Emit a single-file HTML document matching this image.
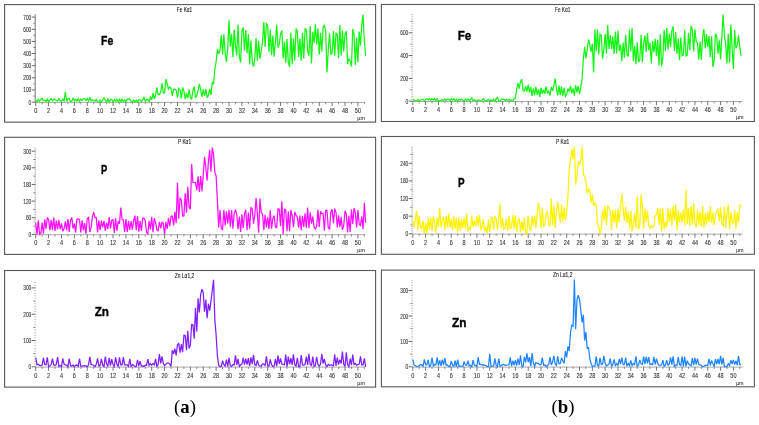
<!DOCTYPE html><html><head><meta charset="utf-8"><style>html,body{margin:0;padding:0;background:#fff;}svg{display:block;filter:blur(0.3px);}</style></head><body>
<svg width="759" height="425" viewBox="0 0 759 425" font-family='"Liberation Sans", sans-serif'>
<rect width="759" height="425" fill="#fff"/>
<g><rect x="4.6" y="4.6" width="371.00" height="117.50" fill="none" stroke="#585858" stroke-width="1.1"/><text x="176.80" y="11.7" font-size="6.4" fill="#222" stroke="#222" stroke-width="0.12" textLength="15.4" lengthAdjust="spacingAndGlyphs">Fe Kα1</text><line x1="35.3" y1="14.33" x2="35.3" y2="102.60" stroke="#a0a0a0" stroke-width="0.8"/><line x1="31.70" y1="102.10" x2="35.70" y2="102.10" stroke="#555" stroke-width="0.9"/><text x="28.60" y="104.60" font-size="6.5" fill="#3a3a3a" stroke="#3a3a3a" stroke-width="0.12" textLength="2.70" lengthAdjust="spacingAndGlyphs">0</text><line x1="34.60" y1="100.89" x2="35.60" y2="100.89" stroke="#777" stroke-width="0.8"/><line x1="34.60" y1="99.67" x2="35.60" y2="99.67" stroke="#777" stroke-width="0.8"/><line x1="34.60" y1="98.46" x2="35.60" y2="98.46" stroke="#777" stroke-width="0.8"/><line x1="34.60" y1="97.24" x2="35.60" y2="97.24" stroke="#777" stroke-width="0.8"/><line x1="33.30" y1="96.03" x2="35.70" y2="96.03" stroke="#666" stroke-width="0.8"/><line x1="34.60" y1="94.82" x2="35.60" y2="94.82" stroke="#777" stroke-width="0.8"/><line x1="34.60" y1="93.60" x2="35.60" y2="93.60" stroke="#777" stroke-width="0.8"/><line x1="34.60" y1="92.39" x2="35.60" y2="92.39" stroke="#777" stroke-width="0.8"/><line x1="34.60" y1="91.17" x2="35.60" y2="91.17" stroke="#777" stroke-width="0.8"/><line x1="31.70" y1="89.96" x2="35.70" y2="89.96" stroke="#555" stroke-width="0.9"/><text x="23.20" y="92.46" font-size="6.5" fill="#3a3a3a" stroke="#3a3a3a" stroke-width="0.12" textLength="8.10" lengthAdjust="spacingAndGlyphs">100</text><line x1="34.60" y1="88.75" x2="35.60" y2="88.75" stroke="#777" stroke-width="0.8"/><line x1="34.60" y1="87.53" x2="35.60" y2="87.53" stroke="#777" stroke-width="0.8"/><line x1="34.60" y1="86.32" x2="35.60" y2="86.32" stroke="#777" stroke-width="0.8"/><line x1="34.60" y1="85.10" x2="35.60" y2="85.10" stroke="#777" stroke-width="0.8"/><line x1="33.30" y1="83.89" x2="35.70" y2="83.89" stroke="#666" stroke-width="0.8"/><line x1="34.60" y1="82.68" x2="35.60" y2="82.68" stroke="#777" stroke-width="0.8"/><line x1="34.60" y1="81.46" x2="35.60" y2="81.46" stroke="#777" stroke-width="0.8"/><line x1="34.60" y1="80.25" x2="35.60" y2="80.25" stroke="#777" stroke-width="0.8"/><line x1="34.60" y1="79.03" x2="35.60" y2="79.03" stroke="#777" stroke-width="0.8"/><line x1="31.70" y1="77.82" x2="35.70" y2="77.82" stroke="#555" stroke-width="0.9"/><text x="23.20" y="80.32" font-size="6.5" fill="#3a3a3a" stroke="#3a3a3a" stroke-width="0.12" textLength="8.10" lengthAdjust="spacingAndGlyphs">200</text><line x1="34.60" y1="76.61" x2="35.60" y2="76.61" stroke="#777" stroke-width="0.8"/><line x1="34.60" y1="75.39" x2="35.60" y2="75.39" stroke="#777" stroke-width="0.8"/><line x1="34.60" y1="74.18" x2="35.60" y2="74.18" stroke="#777" stroke-width="0.8"/><line x1="34.60" y1="72.96" x2="35.60" y2="72.96" stroke="#777" stroke-width="0.8"/><line x1="33.30" y1="71.75" x2="35.70" y2="71.75" stroke="#666" stroke-width="0.8"/><line x1="34.60" y1="70.54" x2="35.60" y2="70.54" stroke="#777" stroke-width="0.8"/><line x1="34.60" y1="69.32" x2="35.60" y2="69.32" stroke="#777" stroke-width="0.8"/><line x1="34.60" y1="68.11" x2="35.60" y2="68.11" stroke="#777" stroke-width="0.8"/><line x1="34.60" y1="66.89" x2="35.60" y2="66.89" stroke="#777" stroke-width="0.8"/><line x1="31.70" y1="65.68" x2="35.70" y2="65.68" stroke="#555" stroke-width="0.9"/><text x="23.20" y="68.18" font-size="6.5" fill="#3a3a3a" stroke="#3a3a3a" stroke-width="0.12" textLength="8.10" lengthAdjust="spacingAndGlyphs">300</text><line x1="34.60" y1="64.47" x2="35.60" y2="64.47" stroke="#777" stroke-width="0.8"/><line x1="34.60" y1="63.25" x2="35.60" y2="63.25" stroke="#777" stroke-width="0.8"/><line x1="34.60" y1="62.04" x2="35.60" y2="62.04" stroke="#777" stroke-width="0.8"/><line x1="34.60" y1="60.82" x2="35.60" y2="60.82" stroke="#777" stroke-width="0.8"/><line x1="33.30" y1="59.61" x2="35.70" y2="59.61" stroke="#666" stroke-width="0.8"/><line x1="34.60" y1="58.40" x2="35.60" y2="58.40" stroke="#777" stroke-width="0.8"/><line x1="34.60" y1="57.18" x2="35.60" y2="57.18" stroke="#777" stroke-width="0.8"/><line x1="34.60" y1="55.97" x2="35.60" y2="55.97" stroke="#777" stroke-width="0.8"/><line x1="34.60" y1="54.75" x2="35.60" y2="54.75" stroke="#777" stroke-width="0.8"/><line x1="31.70" y1="53.54" x2="35.70" y2="53.54" stroke="#555" stroke-width="0.9"/><text x="23.20" y="56.04" font-size="6.5" fill="#3a3a3a" stroke="#3a3a3a" stroke-width="0.12" textLength="8.10" lengthAdjust="spacingAndGlyphs">400</text><line x1="34.60" y1="52.33" x2="35.60" y2="52.33" stroke="#777" stroke-width="0.8"/><line x1="34.60" y1="51.11" x2="35.60" y2="51.11" stroke="#777" stroke-width="0.8"/><line x1="34.60" y1="49.90" x2="35.60" y2="49.90" stroke="#777" stroke-width="0.8"/><line x1="34.60" y1="48.68" x2="35.60" y2="48.68" stroke="#777" stroke-width="0.8"/><line x1="33.30" y1="47.47" x2="35.70" y2="47.47" stroke="#666" stroke-width="0.8"/><line x1="34.60" y1="46.26" x2="35.60" y2="46.26" stroke="#777" stroke-width="0.8"/><line x1="34.60" y1="45.04" x2="35.60" y2="45.04" stroke="#777" stroke-width="0.8"/><line x1="34.60" y1="43.83" x2="35.60" y2="43.83" stroke="#777" stroke-width="0.8"/><line x1="34.60" y1="42.61" x2="35.60" y2="42.61" stroke="#777" stroke-width="0.8"/><line x1="31.70" y1="41.40" x2="35.70" y2="41.40" stroke="#555" stroke-width="0.9"/><text x="23.20" y="43.90" font-size="6.5" fill="#3a3a3a" stroke="#3a3a3a" stroke-width="0.12" textLength="8.10" lengthAdjust="spacingAndGlyphs">500</text><line x1="34.60" y1="40.19" x2="35.60" y2="40.19" stroke="#777" stroke-width="0.8"/><line x1="34.60" y1="38.97" x2="35.60" y2="38.97" stroke="#777" stroke-width="0.8"/><line x1="34.60" y1="37.76" x2="35.60" y2="37.76" stroke="#777" stroke-width="0.8"/><line x1="34.60" y1="36.54" x2="35.60" y2="36.54" stroke="#777" stroke-width="0.8"/><line x1="33.30" y1="35.33" x2="35.70" y2="35.33" stroke="#666" stroke-width="0.8"/><line x1="34.60" y1="34.12" x2="35.60" y2="34.12" stroke="#777" stroke-width="0.8"/><line x1="34.60" y1="32.90" x2="35.60" y2="32.90" stroke="#777" stroke-width="0.8"/><line x1="34.60" y1="31.69" x2="35.60" y2="31.69" stroke="#777" stroke-width="0.8"/><line x1="34.60" y1="30.47" x2="35.60" y2="30.47" stroke="#777" stroke-width="0.8"/><line x1="31.70" y1="29.26" x2="35.70" y2="29.26" stroke="#555" stroke-width="0.9"/><text x="23.20" y="31.76" font-size="6.5" fill="#3a3a3a" stroke="#3a3a3a" stroke-width="0.12" textLength="8.10" lengthAdjust="spacingAndGlyphs">600</text><line x1="34.60" y1="28.05" x2="35.60" y2="28.05" stroke="#777" stroke-width="0.8"/><line x1="34.60" y1="26.83" x2="35.60" y2="26.83" stroke="#777" stroke-width="0.8"/><line x1="34.60" y1="25.62" x2="35.60" y2="25.62" stroke="#777" stroke-width="0.8"/><line x1="34.60" y1="24.40" x2="35.60" y2="24.40" stroke="#777" stroke-width="0.8"/><line x1="33.30" y1="23.19" x2="35.70" y2="23.19" stroke="#666" stroke-width="0.8"/><line x1="34.60" y1="21.98" x2="35.60" y2="21.98" stroke="#777" stroke-width="0.8"/><line x1="34.60" y1="20.76" x2="35.60" y2="20.76" stroke="#777" stroke-width="0.8"/><line x1="34.60" y1="19.55" x2="35.60" y2="19.55" stroke="#777" stroke-width="0.8"/><line x1="34.60" y1="18.33" x2="35.60" y2="18.33" stroke="#777" stroke-width="0.8"/><line x1="31.70" y1="17.12" x2="35.70" y2="17.12" stroke="#555" stroke-width="0.9"/><text x="23.20" y="19.62" font-size="6.5" fill="#3a3a3a" stroke="#3a3a3a" stroke-width="0.12" textLength="8.10" lengthAdjust="spacingAndGlyphs">700</text><line x1="34.60" y1="15.91" x2="35.60" y2="15.91" stroke="#777" stroke-width="0.8"/><line x1="34.60" y1="14.69" x2="35.60" y2="14.69" stroke="#777" stroke-width="0.8"/><line x1="35.20" y1="102.40" x2="364.99" y2="102.40" stroke="#a0a0a0" stroke-width="0.9"/><line x1="35.70" y1="102.10" x2="35.70" y2="106.10" stroke="#666" stroke-width="0.9"/><text x="34.18" y="113.00" font-size="6.6" fill="#3a3a3a" stroke="#3a3a3a" stroke-width="0.12" textLength="3.05" lengthAdjust="spacingAndGlyphs">0</text><line x1="42.14" y1="102.10" x2="42.14" y2="104.30" stroke="#777" stroke-width="0.8"/><line x1="48.59" y1="102.10" x2="48.59" y2="106.10" stroke="#666" stroke-width="0.9"/><text x="47.06" y="113.00" font-size="6.6" fill="#3a3a3a" stroke="#3a3a3a" stroke-width="0.12" textLength="3.05" lengthAdjust="spacingAndGlyphs">2</text><line x1="55.03" y1="102.10" x2="55.03" y2="104.30" stroke="#777" stroke-width="0.8"/><line x1="61.48" y1="102.10" x2="61.48" y2="106.10" stroke="#666" stroke-width="0.9"/><text x="59.95" y="113.00" font-size="6.6" fill="#3a3a3a" stroke="#3a3a3a" stroke-width="0.12" textLength="3.05" lengthAdjust="spacingAndGlyphs">4</text><line x1="67.92" y1="102.10" x2="67.92" y2="104.30" stroke="#777" stroke-width="0.8"/><line x1="74.36" y1="102.10" x2="74.36" y2="106.10" stroke="#666" stroke-width="0.9"/><text x="72.84" y="113.00" font-size="6.6" fill="#3a3a3a" stroke="#3a3a3a" stroke-width="0.12" textLength="3.05" lengthAdjust="spacingAndGlyphs">6</text><line x1="80.81" y1="102.10" x2="80.81" y2="104.30" stroke="#777" stroke-width="0.8"/><line x1="87.25" y1="102.10" x2="87.25" y2="106.10" stroke="#666" stroke-width="0.9"/><text x="85.73" y="113.00" font-size="6.6" fill="#3a3a3a" stroke="#3a3a3a" stroke-width="0.12" textLength="3.05" lengthAdjust="spacingAndGlyphs">8</text><line x1="93.70" y1="102.10" x2="93.70" y2="104.30" stroke="#777" stroke-width="0.8"/><line x1="100.14" y1="102.10" x2="100.14" y2="106.10" stroke="#666" stroke-width="0.9"/><text x="97.09" y="113.00" font-size="6.6" fill="#3a3a3a" stroke="#3a3a3a" stroke-width="0.12" textLength="6.10" lengthAdjust="spacingAndGlyphs">10</text><line x1="106.58" y1="102.10" x2="106.58" y2="104.30" stroke="#777" stroke-width="0.8"/><line x1="113.03" y1="102.10" x2="113.03" y2="106.10" stroke="#666" stroke-width="0.9"/><text x="109.98" y="113.00" font-size="6.6" fill="#3a3a3a" stroke="#3a3a3a" stroke-width="0.12" textLength="6.10" lengthAdjust="spacingAndGlyphs">12</text><line x1="119.47" y1="102.10" x2="119.47" y2="104.30" stroke="#777" stroke-width="0.8"/><line x1="125.92" y1="102.10" x2="125.92" y2="106.10" stroke="#666" stroke-width="0.9"/><text x="122.87" y="113.00" font-size="6.6" fill="#3a3a3a" stroke="#3a3a3a" stroke-width="0.12" textLength="6.10" lengthAdjust="spacingAndGlyphs">14</text><line x1="132.36" y1="102.10" x2="132.36" y2="104.30" stroke="#777" stroke-width="0.8"/><line x1="138.80" y1="102.10" x2="138.80" y2="106.10" stroke="#666" stroke-width="0.9"/><text x="135.75" y="113.00" font-size="6.6" fill="#3a3a3a" stroke="#3a3a3a" stroke-width="0.12" textLength="6.10" lengthAdjust="spacingAndGlyphs">16</text><line x1="145.25" y1="102.10" x2="145.25" y2="104.30" stroke="#777" stroke-width="0.8"/><line x1="151.69" y1="102.10" x2="151.69" y2="106.10" stroke="#666" stroke-width="0.9"/><text x="148.64" y="113.00" font-size="6.6" fill="#3a3a3a" stroke="#3a3a3a" stroke-width="0.12" textLength="6.10" lengthAdjust="spacingAndGlyphs">18</text><line x1="158.14" y1="102.10" x2="158.14" y2="104.30" stroke="#777" stroke-width="0.8"/><line x1="164.58" y1="102.10" x2="164.58" y2="106.10" stroke="#666" stroke-width="0.9"/><text x="161.53" y="113.00" font-size="6.6" fill="#3a3a3a" stroke="#3a3a3a" stroke-width="0.12" textLength="6.10" lengthAdjust="spacingAndGlyphs">20</text><line x1="171.02" y1="102.10" x2="171.02" y2="104.30" stroke="#777" stroke-width="0.8"/><line x1="177.47" y1="102.10" x2="177.47" y2="106.10" stroke="#666" stroke-width="0.9"/><text x="174.42" y="113.00" font-size="6.6" fill="#3a3a3a" stroke="#3a3a3a" stroke-width="0.12" textLength="6.10" lengthAdjust="spacingAndGlyphs">22</text><line x1="183.91" y1="102.10" x2="183.91" y2="104.30" stroke="#777" stroke-width="0.8"/><line x1="190.36" y1="102.10" x2="190.36" y2="106.10" stroke="#666" stroke-width="0.9"/><text x="187.31" y="113.00" font-size="6.6" fill="#3a3a3a" stroke="#3a3a3a" stroke-width="0.12" textLength="6.10" lengthAdjust="spacingAndGlyphs">24</text><line x1="196.80" y1="102.10" x2="196.80" y2="104.30" stroke="#777" stroke-width="0.8"/><line x1="203.24" y1="102.10" x2="203.24" y2="106.10" stroke="#666" stroke-width="0.9"/><text x="200.19" y="113.00" font-size="6.6" fill="#3a3a3a" stroke="#3a3a3a" stroke-width="0.12" textLength="6.10" lengthAdjust="spacingAndGlyphs">26</text><line x1="209.69" y1="102.10" x2="209.69" y2="104.30" stroke="#777" stroke-width="0.8"/><line x1="216.13" y1="102.10" x2="216.13" y2="106.10" stroke="#666" stroke-width="0.9"/><text x="213.08" y="113.00" font-size="6.6" fill="#3a3a3a" stroke="#3a3a3a" stroke-width="0.12" textLength="6.10" lengthAdjust="spacingAndGlyphs">28</text><line x1="222.58" y1="102.10" x2="222.58" y2="104.30" stroke="#777" stroke-width="0.8"/><line x1="229.02" y1="102.10" x2="229.02" y2="106.10" stroke="#666" stroke-width="0.9"/><text x="225.97" y="113.00" font-size="6.6" fill="#3a3a3a" stroke="#3a3a3a" stroke-width="0.12" textLength="6.10" lengthAdjust="spacingAndGlyphs">30</text><line x1="235.46" y1="102.10" x2="235.46" y2="104.30" stroke="#777" stroke-width="0.8"/><line x1="241.91" y1="102.10" x2="241.91" y2="106.10" stroke="#666" stroke-width="0.9"/><text x="238.86" y="113.00" font-size="6.6" fill="#3a3a3a" stroke="#3a3a3a" stroke-width="0.12" textLength="6.10" lengthAdjust="spacingAndGlyphs">32</text><line x1="248.35" y1="102.10" x2="248.35" y2="104.30" stroke="#777" stroke-width="0.8"/><line x1="254.80" y1="102.10" x2="254.80" y2="106.10" stroke="#666" stroke-width="0.9"/><text x="251.75" y="113.00" font-size="6.6" fill="#3a3a3a" stroke="#3a3a3a" stroke-width="0.12" textLength="6.10" lengthAdjust="spacingAndGlyphs">34</text><line x1="261.24" y1="102.10" x2="261.24" y2="104.30" stroke="#777" stroke-width="0.8"/><line x1="267.68" y1="102.10" x2="267.68" y2="106.10" stroke="#666" stroke-width="0.9"/><text x="264.63" y="113.00" font-size="6.6" fill="#3a3a3a" stroke="#3a3a3a" stroke-width="0.12" textLength="6.10" lengthAdjust="spacingAndGlyphs">36</text><line x1="274.13" y1="102.10" x2="274.13" y2="104.30" stroke="#777" stroke-width="0.8"/><line x1="280.57" y1="102.10" x2="280.57" y2="106.10" stroke="#666" stroke-width="0.9"/><text x="277.52" y="113.00" font-size="6.6" fill="#3a3a3a" stroke="#3a3a3a" stroke-width="0.12" textLength="6.10" lengthAdjust="spacingAndGlyphs">38</text><line x1="287.02" y1="102.10" x2="287.02" y2="104.30" stroke="#777" stroke-width="0.8"/><line x1="293.46" y1="102.10" x2="293.46" y2="106.10" stroke="#666" stroke-width="0.9"/><text x="290.41" y="113.00" font-size="6.6" fill="#3a3a3a" stroke="#3a3a3a" stroke-width="0.12" textLength="6.10" lengthAdjust="spacingAndGlyphs">40</text><line x1="299.90" y1="102.10" x2="299.90" y2="104.30" stroke="#777" stroke-width="0.8"/><line x1="306.35" y1="102.10" x2="306.35" y2="106.10" stroke="#666" stroke-width="0.9"/><text x="303.30" y="113.00" font-size="6.6" fill="#3a3a3a" stroke="#3a3a3a" stroke-width="0.12" textLength="6.10" lengthAdjust="spacingAndGlyphs">42</text><line x1="312.79" y1="102.10" x2="312.79" y2="104.30" stroke="#777" stroke-width="0.8"/><line x1="319.24" y1="102.10" x2="319.24" y2="106.10" stroke="#666" stroke-width="0.9"/><text x="316.19" y="113.00" font-size="6.6" fill="#3a3a3a" stroke="#3a3a3a" stroke-width="0.12" textLength="6.10" lengthAdjust="spacingAndGlyphs">44</text><line x1="325.68" y1="102.10" x2="325.68" y2="104.30" stroke="#777" stroke-width="0.8"/><line x1="332.12" y1="102.10" x2="332.12" y2="106.10" stroke="#666" stroke-width="0.9"/><text x="329.07" y="113.00" font-size="6.6" fill="#3a3a3a" stroke="#3a3a3a" stroke-width="0.12" textLength="6.10" lengthAdjust="spacingAndGlyphs">46</text><line x1="338.57" y1="102.10" x2="338.57" y2="104.30" stroke="#777" stroke-width="0.8"/><line x1="345.01" y1="102.10" x2="345.01" y2="106.10" stroke="#666" stroke-width="0.9"/><text x="341.96" y="113.00" font-size="6.6" fill="#3a3a3a" stroke="#3a3a3a" stroke-width="0.12" textLength="6.10" lengthAdjust="spacingAndGlyphs">48</text><line x1="351.46" y1="102.10" x2="351.46" y2="104.30" stroke="#777" stroke-width="0.8"/><line x1="357.90" y1="102.10" x2="357.90" y2="106.10" stroke="#666" stroke-width="0.9"/><text x="354.85" y="113.00" font-size="6.6" fill="#3a3a3a" stroke="#3a3a3a" stroke-width="0.12" textLength="6.10" lengthAdjust="spacingAndGlyphs">50</text><line x1="364.34" y1="102.10" x2="364.34" y2="104.30" stroke="#777" stroke-width="0.8"/><text x="357.30" y="120.10" font-size="5.8" fill="#3a3a3a" stroke="#3a3a3a" stroke-width="0.1" textLength="7.6" lengthAdjust="spacingAndGlyphs">µm</text><polyline points="35.70,100.04 36.99,101.93 38.28,99.27 39.57,101.08 40.86,99.36 42.14,98.33 43.43,100.71 44.72,100.14 46.01,101.56 47.30,98.96 48.59,102.08 49.88,100.08 51.17,98.60 52.45,100.71 53.74,99.25 55.03,99.26 56.32,100.55 57.61,101.06 58.90,98.72 60.19,100.87 61.48,101.29 62.76,99.24 64.05,100.71 65.34,91.78 66.63,101.22 67.92,98.88 69.21,98.50 70.50,101.26 71.79,101.09 73.08,98.24 74.36,100.74 75.65,99.28 76.94,100.94 78.23,98.82 79.52,101.22 80.81,99.23 82.10,100.47 83.39,98.60 84.67,98.83 85.96,100.37 87.25,98.52 88.54,101.16 89.83,97.24 91.12,100.76 92.41,99.94 93.70,100.19 94.98,101.09 96.27,99.63 97.56,102.10 98.85,101.89 100.14,100.28 101.43,102.10 102.72,100.02 104.01,97.85 105.30,100.17 106.58,101.97 107.87,99.05 109.16,102.10 110.45,99.01 111.74,99.65 113.03,102.05 114.32,99.83 115.61,101.13 116.89,99.20 118.18,102.10 119.47,99.44 120.76,101.79 122.05,99.17 123.34,101.83 124.63,99.86 125.92,101.58 127.20,99.25 128.49,98.86 129.78,99.16 131.07,101.41 132.36,101.94 133.65,100.03 134.94,101.97 136.23,100.04 137.52,101.98 138.80,99.69 140.09,99.77 141.38,101.77 142.67,100.19 143.96,97.49 145.25,101.19 146.54,99.63 147.83,99.44 149.11,101.58 150.40,97.07 151.69,99.77 152.98,93.13 154.27,99.04 155.56,95.26 156.85,87.31 158.14,94.68 159.42,94.71 160.71,91.74 162.00,83.22 163.29,92.97 164.58,92.92 165.87,79.03 167.16,83.66 168.45,89.18 169.74,86.96 171.02,88.25 172.31,95.92 173.60,89.41 174.89,89.27 176.18,90.13 177.47,97.55 178.76,88.50 180.05,89.96 181.33,98.35 182.62,87.47 183.91,90.96 185.20,99.14 186.49,93.02 187.78,98.25 189.07,89.38 190.36,96.96 191.64,99.45 192.93,90.06 194.22,86.58 195.51,97.96 196.80,95.66 198.09,90.46 199.38,83.89 200.67,89.59 201.96,96.92 203.24,89.39 204.53,95.96 205.82,88.88 207.11,97.64 208.40,95.42 209.69,88.96 210.98,94.94 212.27,82.04 213.55,84.15 214.84,69.29 216.13,61.48 217.42,49.20 218.71,54.02 220.00,49.95 221.29,35.11 222.58,54.53 223.86,34.29 225.15,52.42 226.44,61.91 227.73,48.29 229.02,19.94 230.31,46.58 231.60,33.99 232.89,57.30 234.18,29.51 235.46,45.07 236.75,55.44 238.04,24.43 239.33,56.07 240.62,62.53 241.91,31.15 243.20,27.35 244.49,50.53 245.77,30.07 247.06,53.22 248.35,33.72 249.64,64.56 250.93,40.41 252.22,61.61 253.51,66.49 254.80,58.61 256.08,37.98 257.37,60.83 258.66,40.87 259.95,58.72 261.24,51.01 262.53,41.87 263.82,22.05 265.11,46.93 266.40,23.69 267.68,25.17 268.97,51.95 270.26,29.57 271.55,55.09 272.84,35.61 274.13,56.79 275.42,42.19 276.71,24.89 277.99,47.42 279.28,44.15 280.57,33.92 281.86,30.48 283.15,58.55 284.44,41.51 285.73,62.63 287.02,39.12 288.30,62.55 289.59,66.89 290.88,32.56 292.17,64.24 293.46,38.38 294.75,60.72 296.04,28.51 297.33,31.65 298.62,57.01 299.90,38.64 301.19,60.63 302.48,32.90 303.77,58.66 305.06,28.66 306.35,29.71 307.64,50.85 308.93,55.80 310.21,26.03 311.50,63.51 312.79,31.67 314.08,43.03 315.37,24.24 316.66,44.55 317.95,28.64 319.24,54.72 320.52,32.69 321.81,51.75 323.10,27.53 324.39,24.91 325.68,31.46 326.97,72.36 328.26,50.42 329.55,33.32 330.84,54.08 332.12,53.59 333.41,31.08 334.70,55.76 335.99,33.30 337.28,34.31 338.57,58.26 339.86,25.07 341.15,55.51 342.43,30.41 343.72,51.34 345.01,34.37 346.30,31.13 347.59,64.06 348.88,58.93 350.17,60.69 351.46,66.49 352.74,29.02 354.03,34.41 355.32,65.06 356.61,37.90 357.90,62.13 359.19,31.45 360.48,45.73 361.77,24.99 363.06,14.69 364.34,41.00 365.63,55.99" fill="none" stroke="#14f514" stroke-width="1.25" stroke-linejoin="miter" stroke-miterlimit="3"/><text x="101.0" y="44.6" font-size="13.3" font-weight="bold" fill="#000" stroke="#000" stroke-width="0.38" textLength="12.2" lengthAdjust="spacingAndGlyphs">Fe</text></g>
<g><rect x="381.4" y="4.5" width="373.00" height="117.00" fill="none" stroke="#585858" stroke-width="1.1"/><text x="555.00" y="11.6" font-size="6.4" fill="#222" stroke="#222" stroke-width="0.12" textLength="15.4" lengthAdjust="spacingAndGlyphs">Fe Kα1</text><line x1="408.70" y1="101.20" x2="412.70" y2="101.20" stroke="#555" stroke-width="0.9"/><text x="405.60" y="103.70" font-size="6.5" fill="#3a3a3a" stroke="#3a3a3a" stroke-width="0.12" textLength="2.70" lengthAdjust="spacingAndGlyphs">0</text><line x1="411.60" y1="98.92" x2="412.60" y2="98.92" stroke="#777" stroke-width="0.8"/><line x1="411.60" y1="96.64" x2="412.60" y2="96.64" stroke="#777" stroke-width="0.8"/><line x1="411.60" y1="94.36" x2="412.60" y2="94.36" stroke="#777" stroke-width="0.8"/><line x1="411.60" y1="92.08" x2="412.60" y2="92.08" stroke="#777" stroke-width="0.8"/><line x1="410.30" y1="89.80" x2="412.70" y2="89.80" stroke="#666" stroke-width="0.8"/><line x1="411.60" y1="87.52" x2="412.60" y2="87.52" stroke="#777" stroke-width="0.8"/><line x1="411.60" y1="85.24" x2="412.60" y2="85.24" stroke="#777" stroke-width="0.8"/><line x1="411.60" y1="82.96" x2="412.60" y2="82.96" stroke="#777" stroke-width="0.8"/><line x1="411.60" y1="80.68" x2="412.60" y2="80.68" stroke="#777" stroke-width="0.8"/><line x1="408.70" y1="78.40" x2="412.70" y2="78.40" stroke="#555" stroke-width="0.9"/><text x="400.20" y="80.90" font-size="6.5" fill="#3a3a3a" stroke="#3a3a3a" stroke-width="0.12" textLength="8.10" lengthAdjust="spacingAndGlyphs">200</text><line x1="411.60" y1="76.12" x2="412.60" y2="76.12" stroke="#777" stroke-width="0.8"/><line x1="411.60" y1="73.84" x2="412.60" y2="73.84" stroke="#777" stroke-width="0.8"/><line x1="411.60" y1="71.56" x2="412.60" y2="71.56" stroke="#777" stroke-width="0.8"/><line x1="411.60" y1="69.28" x2="412.60" y2="69.28" stroke="#777" stroke-width="0.8"/><line x1="410.30" y1="67.00" x2="412.70" y2="67.00" stroke="#666" stroke-width="0.8"/><line x1="411.60" y1="64.72" x2="412.60" y2="64.72" stroke="#777" stroke-width="0.8"/><line x1="411.60" y1="62.44" x2="412.60" y2="62.44" stroke="#777" stroke-width="0.8"/><line x1="411.60" y1="60.16" x2="412.60" y2="60.16" stroke="#777" stroke-width="0.8"/><line x1="411.60" y1="57.88" x2="412.60" y2="57.88" stroke="#777" stroke-width="0.8"/><line x1="408.70" y1="55.60" x2="412.70" y2="55.60" stroke="#555" stroke-width="0.9"/><text x="400.20" y="58.10" font-size="6.5" fill="#3a3a3a" stroke="#3a3a3a" stroke-width="0.12" textLength="8.10" lengthAdjust="spacingAndGlyphs">400</text><line x1="411.60" y1="53.32" x2="412.60" y2="53.32" stroke="#777" stroke-width="0.8"/><line x1="411.60" y1="51.04" x2="412.60" y2="51.04" stroke="#777" stroke-width="0.8"/><line x1="411.60" y1="48.76" x2="412.60" y2="48.76" stroke="#777" stroke-width="0.8"/><line x1="411.60" y1="46.48" x2="412.60" y2="46.48" stroke="#777" stroke-width="0.8"/><line x1="410.30" y1="44.20" x2="412.70" y2="44.20" stroke="#666" stroke-width="0.8"/><line x1="411.60" y1="41.92" x2="412.60" y2="41.92" stroke="#777" stroke-width="0.8"/><line x1="411.60" y1="39.64" x2="412.60" y2="39.64" stroke="#777" stroke-width="0.8"/><line x1="411.60" y1="37.36" x2="412.60" y2="37.36" stroke="#777" stroke-width="0.8"/><line x1="411.60" y1="35.08" x2="412.60" y2="35.08" stroke="#777" stroke-width="0.8"/><line x1="408.70" y1="32.80" x2="412.70" y2="32.80" stroke="#555" stroke-width="0.9"/><text x="400.20" y="35.30" font-size="6.5" fill="#3a3a3a" stroke="#3a3a3a" stroke-width="0.12" textLength="8.10" lengthAdjust="spacingAndGlyphs">600</text><line x1="411.60" y1="30.52" x2="412.60" y2="30.52" stroke="#777" stroke-width="0.8"/><line x1="411.60" y1="28.24" x2="412.60" y2="28.24" stroke="#777" stroke-width="0.8"/><line x1="411.60" y1="25.96" x2="412.60" y2="25.96" stroke="#777" stroke-width="0.8"/><line x1="411.60" y1="23.68" x2="412.60" y2="23.68" stroke="#777" stroke-width="0.8"/><line x1="410.30" y1="21.40" x2="412.70" y2="21.40" stroke="#666" stroke-width="0.8"/><line x1="411.60" y1="19.12" x2="412.60" y2="19.12" stroke="#777" stroke-width="0.8"/><line x1="411.60" y1="16.84" x2="412.60" y2="16.84" stroke="#777" stroke-width="0.8"/><line x1="411.60" y1="14.56" x2="412.60" y2="14.56" stroke="#777" stroke-width="0.8"/><line x1="412.30" y1="101.50" x2="742.70" y2="101.50" stroke="#a0a0a0" stroke-width="0.9"/><line x1="412.80" y1="101.20" x2="412.80" y2="105.20" stroke="#666" stroke-width="0.9"/><text x="411.28" y="112.10" font-size="6.6" fill="#3a3a3a" stroke="#3a3a3a" stroke-width="0.12" textLength="3.05" lengthAdjust="spacingAndGlyphs">0</text><line x1="419.21" y1="101.20" x2="419.21" y2="103.40" stroke="#777" stroke-width="0.8"/><line x1="425.62" y1="101.20" x2="425.62" y2="105.20" stroke="#666" stroke-width="0.9"/><text x="424.10" y="112.10" font-size="6.6" fill="#3a3a3a" stroke="#3a3a3a" stroke-width="0.12" textLength="3.05" lengthAdjust="spacingAndGlyphs">2</text><line x1="432.04" y1="101.20" x2="432.04" y2="103.40" stroke="#777" stroke-width="0.8"/><line x1="438.45" y1="101.20" x2="438.45" y2="105.20" stroke="#666" stroke-width="0.9"/><text x="436.92" y="112.10" font-size="6.6" fill="#3a3a3a" stroke="#3a3a3a" stroke-width="0.12" textLength="3.05" lengthAdjust="spacingAndGlyphs">4</text><line x1="444.86" y1="101.20" x2="444.86" y2="103.40" stroke="#777" stroke-width="0.8"/><line x1="451.27" y1="101.20" x2="451.27" y2="105.20" stroke="#666" stroke-width="0.9"/><text x="449.75" y="112.10" font-size="6.6" fill="#3a3a3a" stroke="#3a3a3a" stroke-width="0.12" textLength="3.05" lengthAdjust="spacingAndGlyphs">6</text><line x1="457.68" y1="101.20" x2="457.68" y2="103.40" stroke="#777" stroke-width="0.8"/><line x1="464.10" y1="101.20" x2="464.10" y2="105.20" stroke="#666" stroke-width="0.9"/><text x="462.57" y="112.10" font-size="6.6" fill="#3a3a3a" stroke="#3a3a3a" stroke-width="0.12" textLength="3.05" lengthAdjust="spacingAndGlyphs">8</text><line x1="470.51" y1="101.20" x2="470.51" y2="103.40" stroke="#777" stroke-width="0.8"/><line x1="476.92" y1="101.20" x2="476.92" y2="105.20" stroke="#666" stroke-width="0.9"/><text x="473.87" y="112.10" font-size="6.6" fill="#3a3a3a" stroke="#3a3a3a" stroke-width="0.12" textLength="6.10" lengthAdjust="spacingAndGlyphs">10</text><line x1="483.33" y1="101.20" x2="483.33" y2="103.40" stroke="#777" stroke-width="0.8"/><line x1="489.74" y1="101.20" x2="489.74" y2="105.20" stroke="#666" stroke-width="0.9"/><text x="486.69" y="112.10" font-size="6.6" fill="#3a3a3a" stroke="#3a3a3a" stroke-width="0.12" textLength="6.10" lengthAdjust="spacingAndGlyphs">12</text><line x1="496.16" y1="101.20" x2="496.16" y2="103.40" stroke="#777" stroke-width="0.8"/><line x1="502.57" y1="101.20" x2="502.57" y2="105.20" stroke="#666" stroke-width="0.9"/><text x="499.52" y="112.10" font-size="6.6" fill="#3a3a3a" stroke="#3a3a3a" stroke-width="0.12" textLength="6.10" lengthAdjust="spacingAndGlyphs">14</text><line x1="508.98" y1="101.20" x2="508.98" y2="103.40" stroke="#777" stroke-width="0.8"/><line x1="515.39" y1="101.20" x2="515.39" y2="105.20" stroke="#666" stroke-width="0.9"/><text x="512.34" y="112.10" font-size="6.6" fill="#3a3a3a" stroke="#3a3a3a" stroke-width="0.12" textLength="6.10" lengthAdjust="spacingAndGlyphs">16</text><line x1="521.80" y1="101.20" x2="521.80" y2="103.40" stroke="#777" stroke-width="0.8"/><line x1="528.22" y1="101.20" x2="528.22" y2="105.20" stroke="#666" stroke-width="0.9"/><text x="525.17" y="112.10" font-size="6.6" fill="#3a3a3a" stroke="#3a3a3a" stroke-width="0.12" textLength="6.10" lengthAdjust="spacingAndGlyphs">18</text><line x1="534.63" y1="101.20" x2="534.63" y2="103.40" stroke="#777" stroke-width="0.8"/><line x1="541.04" y1="101.20" x2="541.04" y2="105.20" stroke="#666" stroke-width="0.9"/><text x="537.99" y="112.10" font-size="6.6" fill="#3a3a3a" stroke="#3a3a3a" stroke-width="0.12" textLength="6.10" lengthAdjust="spacingAndGlyphs">20</text><line x1="547.45" y1="101.20" x2="547.45" y2="103.40" stroke="#777" stroke-width="0.8"/><line x1="553.86" y1="101.20" x2="553.86" y2="105.20" stroke="#666" stroke-width="0.9"/><text x="550.81" y="112.10" font-size="6.6" fill="#3a3a3a" stroke="#3a3a3a" stroke-width="0.12" textLength="6.10" lengthAdjust="spacingAndGlyphs">22</text><line x1="560.28" y1="101.20" x2="560.28" y2="103.40" stroke="#777" stroke-width="0.8"/><line x1="566.69" y1="101.20" x2="566.69" y2="105.20" stroke="#666" stroke-width="0.9"/><text x="563.64" y="112.10" font-size="6.6" fill="#3a3a3a" stroke="#3a3a3a" stroke-width="0.12" textLength="6.10" lengthAdjust="spacingAndGlyphs">24</text><line x1="573.10" y1="101.20" x2="573.10" y2="103.40" stroke="#777" stroke-width="0.8"/><line x1="579.51" y1="101.20" x2="579.51" y2="105.20" stroke="#666" stroke-width="0.9"/><text x="576.46" y="112.10" font-size="6.6" fill="#3a3a3a" stroke="#3a3a3a" stroke-width="0.12" textLength="6.10" lengthAdjust="spacingAndGlyphs">26</text><line x1="585.92" y1="101.20" x2="585.92" y2="103.40" stroke="#777" stroke-width="0.8"/><line x1="592.34" y1="101.20" x2="592.34" y2="105.20" stroke="#666" stroke-width="0.9"/><text x="589.29" y="112.10" font-size="6.6" fill="#3a3a3a" stroke="#3a3a3a" stroke-width="0.12" textLength="6.10" lengthAdjust="spacingAndGlyphs">28</text><line x1="598.75" y1="101.20" x2="598.75" y2="103.40" stroke="#777" stroke-width="0.8"/><line x1="605.16" y1="101.20" x2="605.16" y2="105.20" stroke="#666" stroke-width="0.9"/><text x="602.11" y="112.10" font-size="6.6" fill="#3a3a3a" stroke="#3a3a3a" stroke-width="0.12" textLength="6.10" lengthAdjust="spacingAndGlyphs">30</text><line x1="611.57" y1="101.20" x2="611.57" y2="103.40" stroke="#777" stroke-width="0.8"/><line x1="617.98" y1="101.20" x2="617.98" y2="105.20" stroke="#666" stroke-width="0.9"/><text x="614.93" y="112.10" font-size="6.6" fill="#3a3a3a" stroke="#3a3a3a" stroke-width="0.12" textLength="6.10" lengthAdjust="spacingAndGlyphs">32</text><line x1="624.40" y1="101.20" x2="624.40" y2="103.40" stroke="#777" stroke-width="0.8"/><line x1="630.81" y1="101.20" x2="630.81" y2="105.20" stroke="#666" stroke-width="0.9"/><text x="627.76" y="112.10" font-size="6.6" fill="#3a3a3a" stroke="#3a3a3a" stroke-width="0.12" textLength="6.10" lengthAdjust="spacingAndGlyphs">34</text><line x1="637.22" y1="101.20" x2="637.22" y2="103.40" stroke="#777" stroke-width="0.8"/><line x1="643.63" y1="101.20" x2="643.63" y2="105.20" stroke="#666" stroke-width="0.9"/><text x="640.58" y="112.10" font-size="6.6" fill="#3a3a3a" stroke="#3a3a3a" stroke-width="0.12" textLength="6.10" lengthAdjust="spacingAndGlyphs">36</text><line x1="650.04" y1="101.20" x2="650.04" y2="103.40" stroke="#777" stroke-width="0.8"/><line x1="656.46" y1="101.20" x2="656.46" y2="105.20" stroke="#666" stroke-width="0.9"/><text x="653.41" y="112.10" font-size="6.6" fill="#3a3a3a" stroke="#3a3a3a" stroke-width="0.12" textLength="6.10" lengthAdjust="spacingAndGlyphs">38</text><line x1="662.87" y1="101.20" x2="662.87" y2="103.40" stroke="#777" stroke-width="0.8"/><line x1="669.28" y1="101.20" x2="669.28" y2="105.20" stroke="#666" stroke-width="0.9"/><text x="666.23" y="112.10" font-size="6.6" fill="#3a3a3a" stroke="#3a3a3a" stroke-width="0.12" textLength="6.10" lengthAdjust="spacingAndGlyphs">40</text><line x1="675.69" y1="101.20" x2="675.69" y2="103.40" stroke="#777" stroke-width="0.8"/><line x1="682.10" y1="101.20" x2="682.10" y2="105.20" stroke="#666" stroke-width="0.9"/><text x="679.05" y="112.10" font-size="6.6" fill="#3a3a3a" stroke="#3a3a3a" stroke-width="0.12" textLength="6.10" lengthAdjust="spacingAndGlyphs">42</text><line x1="688.52" y1="101.20" x2="688.52" y2="103.40" stroke="#777" stroke-width="0.8"/><line x1="694.93" y1="101.20" x2="694.93" y2="105.20" stroke="#666" stroke-width="0.9"/><text x="691.88" y="112.10" font-size="6.6" fill="#3a3a3a" stroke="#3a3a3a" stroke-width="0.12" textLength="6.10" lengthAdjust="spacingAndGlyphs">44</text><line x1="701.34" y1="101.20" x2="701.34" y2="103.40" stroke="#777" stroke-width="0.8"/><line x1="707.75" y1="101.20" x2="707.75" y2="105.20" stroke="#666" stroke-width="0.9"/><text x="704.70" y="112.10" font-size="6.6" fill="#3a3a3a" stroke="#3a3a3a" stroke-width="0.12" textLength="6.10" lengthAdjust="spacingAndGlyphs">46</text><line x1="714.16" y1="101.20" x2="714.16" y2="103.40" stroke="#777" stroke-width="0.8"/><line x1="720.58" y1="101.20" x2="720.58" y2="105.20" stroke="#666" stroke-width="0.9"/><text x="717.53" y="112.10" font-size="6.6" fill="#3a3a3a" stroke="#3a3a3a" stroke-width="0.12" textLength="6.10" lengthAdjust="spacingAndGlyphs">48</text><line x1="726.99" y1="101.20" x2="726.99" y2="103.40" stroke="#777" stroke-width="0.8"/><line x1="733.40" y1="101.20" x2="733.40" y2="105.20" stroke="#666" stroke-width="0.9"/><text x="730.35" y="112.10" font-size="6.6" fill="#3a3a3a" stroke="#3a3a3a" stroke-width="0.12" textLength="6.10" lengthAdjust="spacingAndGlyphs">50</text><line x1="739.81" y1="101.20" x2="739.81" y2="103.40" stroke="#777" stroke-width="0.8"/><text x="735.90" y="119.00" font-size="5.8" fill="#3a3a3a" stroke="#3a3a3a" stroke-width="0.1" textLength="7.6" lengthAdjust="spacingAndGlyphs">µm</text><polyline points="412.80,98.80 414.08,100.44 415.36,100.66 416.65,100.88 417.93,99.52 419.21,100.97 420.49,99.89 421.78,99.70 423.06,99.23 424.34,101.00 425.62,99.20 426.91,98.70 428.19,99.97 429.47,98.71 430.75,100.23 432.04,98.60 433.32,100.27 434.60,98.65 435.88,100.59 437.17,98.80 438.45,101.18 439.73,100.63 441.01,100.47 442.30,99.31 443.58,100.41 444.86,98.86 446.14,100.35 447.42,99.09 448.71,99.10 449.99,100.80 451.27,98.69 452.55,100.34 453.84,98.60 455.12,100.91 456.40,99.35 457.68,100.89 458.97,99.23 460.25,100.13 461.53,99.16 462.81,100.28 464.10,101.03 465.38,99.05 466.66,100.45 467.94,98.88 469.23,100.42 470.51,99.75 471.79,97.78 473.07,100.95 474.36,99.82 475.64,100.51 476.92,100.99 478.20,100.01 479.48,100.11 480.77,101.10 482.05,100.76 483.33,98.58 484.61,100.28 485.90,100.59 487.18,100.48 488.46,99.32 489.74,100.72 491.03,99.97 492.31,101.20 493.59,99.33 494.87,100.81 496.16,98.99 497.44,97.55 498.72,100.90 500.00,101.08 501.29,99.48 502.57,99.48 503.85,99.00 505.13,100.60 506.42,99.09 507.70,100.53 508.98,99.38 510.26,100.46 511.54,100.19 512.83,100.75 514.11,99.05 515.39,98.06 516.67,89.55 517.96,83.15 519.24,88.54 520.52,81.33 521.80,79.31 523.09,90.81 524.37,91.06 525.65,86.25 526.93,91.60 528.22,84.68 529.50,92.29 530.78,86.81 532.06,95.84 533.35,88.63 534.63,95.24 535.91,86.89 537.19,94.92 538.48,89.11 539.76,96.93 541.04,87.67 542.32,93.87 543.60,89.78 544.89,93.92 546.17,86.44 547.45,93.50 548.73,90.58 550.02,95.47 551.30,87.05 552.58,91.06 553.86,85.43 555.15,78.40 556.43,88.75 557.71,95.46 558.99,85.40 560.28,95.18 561.56,86.61 562.84,96.18 564.12,87.97 565.41,96.22 566.69,94.17 567.97,88.64 569.25,91.57 570.54,86.00 571.82,93.28 573.10,88.46 574.38,95.54 575.66,84.98 576.95,92.45 578.23,86.16 579.51,94.11 580.79,87.46 582.08,79.05 583.36,59.16 584.64,46.94 585.92,58.39 587.21,50.21 588.49,39.56 589.77,44.22 591.05,51.79 592.34,43.90 593.62,72.47 594.90,29.18 596.18,51.56 597.47,29.63 598.75,54.42 600.03,33.92 601.31,35.71 602.60,58.71 603.88,49.53 605.16,33.72 606.44,53.65 607.72,25.11 609.01,49.06 610.29,35.12 611.57,48.99 612.85,36.33 614.14,53.89 615.42,31.64 616.70,53.36 617.98,30.60 619.27,51.08 620.55,44.61 621.83,61.20 623.11,42.53 624.40,57.76 625.68,34.80 626.96,54.68 628.24,56.49 629.53,29.64 630.81,51.51 632.09,28.11 633.37,61.12 634.66,45.77 635.94,64.32 637.22,42.30 638.50,62.17 639.78,59.63 641.07,34.69 642.35,62.12 643.63,43.15 644.91,35.62 646.20,52.00 647.48,32.99 648.76,50.48 650.04,42.57 651.33,63.50 652.61,41.16 653.89,52.19 655.17,38.71 656.46,56.18 657.74,39.87 659.02,65.48 660.30,34.36 661.59,66.53 662.87,57.22 664.15,29.77 665.43,51.02 666.72,27.91 668.00,49.43 669.28,33.63 670.56,46.86 671.84,30.54 673.13,26.36 674.41,51.24 675.69,32.06 676.97,53.92 678.26,38.62 679.54,60.09 680.82,37.51 682.10,55.81 683.39,55.16 684.67,30.03 685.95,55.80 687.23,55.33 688.52,33.12 689.80,50.18 691.08,25.73 692.36,29.81 693.65,51.53 694.93,29.19 696.21,41.63 697.49,42.86 698.78,59.48 700.06,41.63 701.34,59.93 702.62,36.97 703.90,29.05 705.19,48.38 706.47,34.17 707.75,46.82 709.03,36.09 710.32,57.13 711.60,36.40 712.88,66.86 714.16,60.45 715.45,33.51 716.73,36.49 718.01,53.62 719.29,40.25 720.58,59.36 721.86,36.85 723.14,14.45 724.42,35.97 725.71,44.87 726.99,63.36 728.27,33.76 729.55,62.66 730.84,24.63 732.12,48.08 733.40,68.94 734.68,30.11 735.96,48.38 737.25,45.16 738.53,35.26 739.81,47.58 741.09,55.86" fill="none" stroke="#14f514" stroke-width="1.25" stroke-linejoin="miter" stroke-miterlimit="3"/><text x="457.8" y="40.0" font-size="13.3" font-weight="bold" fill="#000" stroke="#000" stroke-width="0.38" textLength="13.4" lengthAdjust="spacingAndGlyphs">Fe</text></g>
<g><rect x="4.6" y="137.3" width="371.00" height="117.10" fill="none" stroke="#585858" stroke-width="1.1"/><text x="177.90" y="144.4" font-size="6.4" fill="#222" stroke="#222" stroke-width="0.12" textLength="13.2" lengthAdjust="spacingAndGlyphs">P Kα1</text><line x1="31.70" y1="234.40" x2="35.70" y2="234.40" stroke="#555" stroke-width="0.9"/><text x="28.60" y="236.90" font-size="6.5" fill="#3a3a3a" stroke="#3a3a3a" stroke-width="0.12" textLength="2.70" lengthAdjust="spacingAndGlyphs">0</text><line x1="34.60" y1="232.74" x2="35.60" y2="232.74" stroke="#777" stroke-width="0.8"/><line x1="34.60" y1="231.07" x2="35.60" y2="231.07" stroke="#777" stroke-width="0.8"/><line x1="34.60" y1="229.41" x2="35.60" y2="229.41" stroke="#777" stroke-width="0.8"/><line x1="34.60" y1="227.74" x2="35.60" y2="227.74" stroke="#777" stroke-width="0.8"/><line x1="33.30" y1="226.08" x2="35.70" y2="226.08" stroke="#666" stroke-width="0.8"/><line x1="34.60" y1="224.41" x2="35.60" y2="224.41" stroke="#777" stroke-width="0.8"/><line x1="34.60" y1="222.75" x2="35.60" y2="222.75" stroke="#777" stroke-width="0.8"/><line x1="34.60" y1="221.08" x2="35.60" y2="221.08" stroke="#777" stroke-width="0.8"/><line x1="34.60" y1="219.41" x2="35.60" y2="219.41" stroke="#777" stroke-width="0.8"/><line x1="31.70" y1="217.75" x2="35.70" y2="217.75" stroke="#555" stroke-width="0.9"/><text x="25.90" y="220.25" font-size="6.5" fill="#3a3a3a" stroke="#3a3a3a" stroke-width="0.12" textLength="5.40" lengthAdjust="spacingAndGlyphs">60</text><line x1="34.60" y1="216.09" x2="35.60" y2="216.09" stroke="#777" stroke-width="0.8"/><line x1="34.60" y1="214.42" x2="35.60" y2="214.42" stroke="#777" stroke-width="0.8"/><line x1="34.60" y1="212.75" x2="35.60" y2="212.75" stroke="#777" stroke-width="0.8"/><line x1="34.60" y1="211.09" x2="35.60" y2="211.09" stroke="#777" stroke-width="0.8"/><line x1="33.30" y1="209.43" x2="35.70" y2="209.43" stroke="#666" stroke-width="0.8"/><line x1="34.60" y1="207.76" x2="35.60" y2="207.76" stroke="#777" stroke-width="0.8"/><line x1="34.60" y1="206.09" x2="35.60" y2="206.09" stroke="#777" stroke-width="0.8"/><line x1="34.60" y1="204.43" x2="35.60" y2="204.43" stroke="#777" stroke-width="0.8"/><line x1="34.60" y1="202.77" x2="35.60" y2="202.77" stroke="#777" stroke-width="0.8"/><line x1="31.70" y1="201.10" x2="35.70" y2="201.10" stroke="#555" stroke-width="0.9"/><text x="23.20" y="203.60" font-size="6.5" fill="#3a3a3a" stroke="#3a3a3a" stroke-width="0.12" textLength="8.10" lengthAdjust="spacingAndGlyphs">120</text><line x1="34.60" y1="199.44" x2="35.60" y2="199.44" stroke="#777" stroke-width="0.8"/><line x1="34.60" y1="197.77" x2="35.60" y2="197.77" stroke="#777" stroke-width="0.8"/><line x1="34.60" y1="196.11" x2="35.60" y2="196.11" stroke="#777" stroke-width="0.8"/><line x1="34.60" y1="194.44" x2="35.60" y2="194.44" stroke="#777" stroke-width="0.8"/><line x1="33.30" y1="192.78" x2="35.70" y2="192.78" stroke="#666" stroke-width="0.8"/><line x1="34.60" y1="191.11" x2="35.60" y2="191.11" stroke="#777" stroke-width="0.8"/><line x1="34.60" y1="189.44" x2="35.60" y2="189.44" stroke="#777" stroke-width="0.8"/><line x1="34.60" y1="187.78" x2="35.60" y2="187.78" stroke="#777" stroke-width="0.8"/><line x1="34.60" y1="186.12" x2="35.60" y2="186.12" stroke="#777" stroke-width="0.8"/><line x1="31.70" y1="184.45" x2="35.70" y2="184.45" stroke="#555" stroke-width="0.9"/><text x="23.20" y="186.95" font-size="6.5" fill="#3a3a3a" stroke="#3a3a3a" stroke-width="0.12" textLength="8.10" lengthAdjust="spacingAndGlyphs">180</text><line x1="34.60" y1="182.78" x2="35.60" y2="182.78" stroke="#777" stroke-width="0.8"/><line x1="34.60" y1="181.12" x2="35.60" y2="181.12" stroke="#777" stroke-width="0.8"/><line x1="34.60" y1="179.45" x2="35.60" y2="179.45" stroke="#777" stroke-width="0.8"/><line x1="34.60" y1="177.79" x2="35.60" y2="177.79" stroke="#777" stroke-width="0.8"/><line x1="33.30" y1="176.12" x2="35.70" y2="176.12" stroke="#666" stroke-width="0.8"/><line x1="34.60" y1="174.46" x2="35.60" y2="174.46" stroke="#777" stroke-width="0.8"/><line x1="34.60" y1="172.80" x2="35.60" y2="172.80" stroke="#777" stroke-width="0.8"/><line x1="34.60" y1="171.13" x2="35.60" y2="171.13" stroke="#777" stroke-width="0.8"/><line x1="34.60" y1="169.47" x2="35.60" y2="169.47" stroke="#777" stroke-width="0.8"/><line x1="31.70" y1="167.80" x2="35.70" y2="167.80" stroke="#555" stroke-width="0.9"/><text x="23.20" y="170.30" font-size="6.5" fill="#3a3a3a" stroke="#3a3a3a" stroke-width="0.12" textLength="8.10" lengthAdjust="spacingAndGlyphs">240</text><line x1="34.60" y1="166.13" x2="35.60" y2="166.13" stroke="#777" stroke-width="0.8"/><line x1="34.60" y1="164.47" x2="35.60" y2="164.47" stroke="#777" stroke-width="0.8"/><line x1="34.60" y1="162.81" x2="35.60" y2="162.81" stroke="#777" stroke-width="0.8"/><line x1="34.60" y1="161.14" x2="35.60" y2="161.14" stroke="#777" stroke-width="0.8"/><line x1="33.30" y1="159.47" x2="35.70" y2="159.47" stroke="#666" stroke-width="0.8"/><line x1="34.60" y1="157.81" x2="35.60" y2="157.81" stroke="#777" stroke-width="0.8"/><line x1="34.60" y1="156.14" x2="35.60" y2="156.14" stroke="#777" stroke-width="0.8"/><line x1="34.60" y1="154.48" x2="35.60" y2="154.48" stroke="#777" stroke-width="0.8"/><line x1="34.60" y1="152.81" x2="35.60" y2="152.81" stroke="#777" stroke-width="0.8"/><line x1="31.70" y1="151.15" x2="35.70" y2="151.15" stroke="#555" stroke-width="0.9"/><text x="23.20" y="153.65" font-size="6.5" fill="#3a3a3a" stroke="#3a3a3a" stroke-width="0.12" textLength="8.10" lengthAdjust="spacingAndGlyphs">300</text><line x1="34.60" y1="149.49" x2="35.60" y2="149.49" stroke="#777" stroke-width="0.8"/><line x1="34.60" y1="147.82" x2="35.60" y2="147.82" stroke="#777" stroke-width="0.8"/><line x1="35.20" y1="234.70" x2="364.99" y2="234.70" stroke="#a0a0a0" stroke-width="0.9"/><line x1="35.70" y1="234.40" x2="35.70" y2="238.40" stroke="#666" stroke-width="0.9"/><text x="34.18" y="245.30" font-size="6.6" fill="#3a3a3a" stroke="#3a3a3a" stroke-width="0.12" textLength="3.05" lengthAdjust="spacingAndGlyphs">0</text><line x1="42.14" y1="234.40" x2="42.14" y2="236.60" stroke="#777" stroke-width="0.8"/><line x1="48.59" y1="234.40" x2="48.59" y2="238.40" stroke="#666" stroke-width="0.9"/><text x="47.06" y="245.30" font-size="6.6" fill="#3a3a3a" stroke="#3a3a3a" stroke-width="0.12" textLength="3.05" lengthAdjust="spacingAndGlyphs">2</text><line x1="55.03" y1="234.40" x2="55.03" y2="236.60" stroke="#777" stroke-width="0.8"/><line x1="61.48" y1="234.40" x2="61.48" y2="238.40" stroke="#666" stroke-width="0.9"/><text x="59.95" y="245.30" font-size="6.6" fill="#3a3a3a" stroke="#3a3a3a" stroke-width="0.12" textLength="3.05" lengthAdjust="spacingAndGlyphs">4</text><line x1="67.92" y1="234.40" x2="67.92" y2="236.60" stroke="#777" stroke-width="0.8"/><line x1="74.36" y1="234.40" x2="74.36" y2="238.40" stroke="#666" stroke-width="0.9"/><text x="72.84" y="245.30" font-size="6.6" fill="#3a3a3a" stroke="#3a3a3a" stroke-width="0.12" textLength="3.05" lengthAdjust="spacingAndGlyphs">6</text><line x1="80.81" y1="234.40" x2="80.81" y2="236.60" stroke="#777" stroke-width="0.8"/><line x1="87.25" y1="234.40" x2="87.25" y2="238.40" stroke="#666" stroke-width="0.9"/><text x="85.73" y="245.30" font-size="6.6" fill="#3a3a3a" stroke="#3a3a3a" stroke-width="0.12" textLength="3.05" lengthAdjust="spacingAndGlyphs">8</text><line x1="93.70" y1="234.40" x2="93.70" y2="236.60" stroke="#777" stroke-width="0.8"/><line x1="100.14" y1="234.40" x2="100.14" y2="238.40" stroke="#666" stroke-width="0.9"/><text x="97.09" y="245.30" font-size="6.6" fill="#3a3a3a" stroke="#3a3a3a" stroke-width="0.12" textLength="6.10" lengthAdjust="spacingAndGlyphs">10</text><line x1="106.58" y1="234.40" x2="106.58" y2="236.60" stroke="#777" stroke-width="0.8"/><line x1="113.03" y1="234.40" x2="113.03" y2="238.40" stroke="#666" stroke-width="0.9"/><text x="109.98" y="245.30" font-size="6.6" fill="#3a3a3a" stroke="#3a3a3a" stroke-width="0.12" textLength="6.10" lengthAdjust="spacingAndGlyphs">12</text><line x1="119.47" y1="234.40" x2="119.47" y2="236.60" stroke="#777" stroke-width="0.8"/><line x1="125.92" y1="234.40" x2="125.92" y2="238.40" stroke="#666" stroke-width="0.9"/><text x="122.87" y="245.30" font-size="6.6" fill="#3a3a3a" stroke="#3a3a3a" stroke-width="0.12" textLength="6.10" lengthAdjust="spacingAndGlyphs">14</text><line x1="132.36" y1="234.40" x2="132.36" y2="236.60" stroke="#777" stroke-width="0.8"/><line x1="138.80" y1="234.40" x2="138.80" y2="238.40" stroke="#666" stroke-width="0.9"/><text x="135.75" y="245.30" font-size="6.6" fill="#3a3a3a" stroke="#3a3a3a" stroke-width="0.12" textLength="6.10" lengthAdjust="spacingAndGlyphs">16</text><line x1="145.25" y1="234.40" x2="145.25" y2="236.60" stroke="#777" stroke-width="0.8"/><line x1="151.69" y1="234.40" x2="151.69" y2="238.40" stroke="#666" stroke-width="0.9"/><text x="148.64" y="245.30" font-size="6.6" fill="#3a3a3a" stroke="#3a3a3a" stroke-width="0.12" textLength="6.10" lengthAdjust="spacingAndGlyphs">18</text><line x1="158.14" y1="234.40" x2="158.14" y2="236.60" stroke="#777" stroke-width="0.8"/><line x1="164.58" y1="234.40" x2="164.58" y2="238.40" stroke="#666" stroke-width="0.9"/><text x="161.53" y="245.30" font-size="6.6" fill="#3a3a3a" stroke="#3a3a3a" stroke-width="0.12" textLength="6.10" lengthAdjust="spacingAndGlyphs">20</text><line x1="171.02" y1="234.40" x2="171.02" y2="236.60" stroke="#777" stroke-width="0.8"/><line x1="177.47" y1="234.40" x2="177.47" y2="238.40" stroke="#666" stroke-width="0.9"/><text x="174.42" y="245.30" font-size="6.6" fill="#3a3a3a" stroke="#3a3a3a" stroke-width="0.12" textLength="6.10" lengthAdjust="spacingAndGlyphs">22</text><line x1="183.91" y1="234.40" x2="183.91" y2="236.60" stroke="#777" stroke-width="0.8"/><line x1="190.36" y1="234.40" x2="190.36" y2="238.40" stroke="#666" stroke-width="0.9"/><text x="187.31" y="245.30" font-size="6.6" fill="#3a3a3a" stroke="#3a3a3a" stroke-width="0.12" textLength="6.10" lengthAdjust="spacingAndGlyphs">24</text><line x1="196.80" y1="234.40" x2="196.80" y2="236.60" stroke="#777" stroke-width="0.8"/><line x1="203.24" y1="234.40" x2="203.24" y2="238.40" stroke="#666" stroke-width="0.9"/><text x="200.19" y="245.30" font-size="6.6" fill="#3a3a3a" stroke="#3a3a3a" stroke-width="0.12" textLength="6.10" lengthAdjust="spacingAndGlyphs">26</text><line x1="209.69" y1="234.40" x2="209.69" y2="236.60" stroke="#777" stroke-width="0.8"/><line x1="216.13" y1="234.40" x2="216.13" y2="238.40" stroke="#666" stroke-width="0.9"/><text x="213.08" y="245.30" font-size="6.6" fill="#3a3a3a" stroke="#3a3a3a" stroke-width="0.12" textLength="6.10" lengthAdjust="spacingAndGlyphs">28</text><line x1="222.58" y1="234.40" x2="222.58" y2="236.60" stroke="#777" stroke-width="0.8"/><line x1="229.02" y1="234.40" x2="229.02" y2="238.40" stroke="#666" stroke-width="0.9"/><text x="225.97" y="245.30" font-size="6.6" fill="#3a3a3a" stroke="#3a3a3a" stroke-width="0.12" textLength="6.10" lengthAdjust="spacingAndGlyphs">30</text><line x1="235.46" y1="234.40" x2="235.46" y2="236.60" stroke="#777" stroke-width="0.8"/><line x1="241.91" y1="234.40" x2="241.91" y2="238.40" stroke="#666" stroke-width="0.9"/><text x="238.86" y="245.30" font-size="6.6" fill="#3a3a3a" stroke="#3a3a3a" stroke-width="0.12" textLength="6.10" lengthAdjust="spacingAndGlyphs">32</text><line x1="248.35" y1="234.40" x2="248.35" y2="236.60" stroke="#777" stroke-width="0.8"/><line x1="254.80" y1="234.40" x2="254.80" y2="238.40" stroke="#666" stroke-width="0.9"/><text x="251.75" y="245.30" font-size="6.6" fill="#3a3a3a" stroke="#3a3a3a" stroke-width="0.12" textLength="6.10" lengthAdjust="spacingAndGlyphs">34</text><line x1="261.24" y1="234.40" x2="261.24" y2="236.60" stroke="#777" stroke-width="0.8"/><line x1="267.68" y1="234.40" x2="267.68" y2="238.40" stroke="#666" stroke-width="0.9"/><text x="264.63" y="245.30" font-size="6.6" fill="#3a3a3a" stroke="#3a3a3a" stroke-width="0.12" textLength="6.10" lengthAdjust="spacingAndGlyphs">36</text><line x1="274.13" y1="234.40" x2="274.13" y2="236.60" stroke="#777" stroke-width="0.8"/><line x1="280.57" y1="234.40" x2="280.57" y2="238.40" stroke="#666" stroke-width="0.9"/><text x="277.52" y="245.30" font-size="6.6" fill="#3a3a3a" stroke="#3a3a3a" stroke-width="0.12" textLength="6.10" lengthAdjust="spacingAndGlyphs">38</text><line x1="287.02" y1="234.40" x2="287.02" y2="236.60" stroke="#777" stroke-width="0.8"/><line x1="293.46" y1="234.40" x2="293.46" y2="238.40" stroke="#666" stroke-width="0.9"/><text x="290.41" y="245.30" font-size="6.6" fill="#3a3a3a" stroke="#3a3a3a" stroke-width="0.12" textLength="6.10" lengthAdjust="spacingAndGlyphs">40</text><line x1="299.90" y1="234.40" x2="299.90" y2="236.60" stroke="#777" stroke-width="0.8"/><line x1="306.35" y1="234.40" x2="306.35" y2="238.40" stroke="#666" stroke-width="0.9"/><text x="303.30" y="245.30" font-size="6.6" fill="#3a3a3a" stroke="#3a3a3a" stroke-width="0.12" textLength="6.10" lengthAdjust="spacingAndGlyphs">42</text><line x1="312.79" y1="234.40" x2="312.79" y2="236.60" stroke="#777" stroke-width="0.8"/><line x1="319.24" y1="234.40" x2="319.24" y2="238.40" stroke="#666" stroke-width="0.9"/><text x="316.19" y="245.30" font-size="6.6" fill="#3a3a3a" stroke="#3a3a3a" stroke-width="0.12" textLength="6.10" lengthAdjust="spacingAndGlyphs">44</text><line x1="325.68" y1="234.40" x2="325.68" y2="236.60" stroke="#777" stroke-width="0.8"/><line x1="332.12" y1="234.40" x2="332.12" y2="238.40" stroke="#666" stroke-width="0.9"/><text x="329.07" y="245.30" font-size="6.6" fill="#3a3a3a" stroke="#3a3a3a" stroke-width="0.12" textLength="6.10" lengthAdjust="spacingAndGlyphs">46</text><line x1="338.57" y1="234.40" x2="338.57" y2="236.60" stroke="#777" stroke-width="0.8"/><line x1="345.01" y1="234.40" x2="345.01" y2="238.40" stroke="#666" stroke-width="0.9"/><text x="341.96" y="245.30" font-size="6.6" fill="#3a3a3a" stroke="#3a3a3a" stroke-width="0.12" textLength="6.10" lengthAdjust="spacingAndGlyphs">48</text><line x1="351.46" y1="234.40" x2="351.46" y2="236.60" stroke="#777" stroke-width="0.8"/><line x1="357.90" y1="234.40" x2="357.90" y2="238.40" stroke="#666" stroke-width="0.9"/><text x="354.85" y="245.30" font-size="6.6" fill="#3a3a3a" stroke="#3a3a3a" stroke-width="0.12" textLength="6.10" lengthAdjust="spacingAndGlyphs">50</text><line x1="364.34" y1="234.40" x2="364.34" y2="236.60" stroke="#777" stroke-width="0.8"/><text x="357.30" y="252.40" font-size="5.8" fill="#3a3a3a" stroke="#3a3a3a" stroke-width="0.1" textLength="7.6" lengthAdjust="spacingAndGlyphs">µm</text><polyline points="35.70,222.80 36.99,234.40 38.28,220.37 39.57,234.40 40.86,233.36 42.14,222.67 43.43,233.76 44.72,219.23 46.01,228.95 47.30,217.91 48.59,219.29 49.88,230.09 51.17,220.12 52.45,230.07 53.74,217.61 55.03,230.94 56.32,220.65 57.61,229.12 58.90,219.84 60.19,229.48 61.48,223.27 62.76,231.17 64.05,228.81 65.34,221.25 66.63,230.31 67.92,219.09 69.21,231.97 70.50,220.15 71.79,217.60 73.08,228.51 74.36,223.60 75.65,232.56 76.94,219.07 78.23,218.91 79.52,219.60 80.81,232.49 82.10,220.45 83.39,230.27 84.67,223.14 85.96,233.93 87.25,218.27 88.54,217.34 89.83,232.02 91.12,227.35 92.41,216.62 93.70,212.20 94.98,217.55 96.27,217.36 97.56,232.43 98.85,220.43 100.14,230.25 101.43,220.64 102.72,227.48 104.01,220.98 105.30,230.81 106.58,222.71 107.87,229.01 109.16,217.09 110.45,228.45 111.74,220.46 113.03,219.57 114.32,232.92 115.61,218.20 116.89,231.02 118.18,221.39 119.47,223.80 120.76,207.48 122.05,219.18 123.34,220.18 124.63,231.87 125.92,218.97 127.20,232.01 128.49,220.95 129.78,229.86 131.07,221.01 132.36,229.64 133.65,220.36 134.94,215.63 136.23,230.09 137.52,215.96 138.80,231.58 140.09,221.10 141.38,231.04 142.67,218.12 143.96,218.21 145.25,220.88 146.54,232.39 147.83,233.80 149.11,220.93 150.40,229.50 151.69,216.89 152.98,232.32 154.27,218.30 155.56,222.31 156.85,229.79 158.14,230.71 159.42,221.76 160.71,228.48 162.00,222.36 163.29,223.41 164.58,234.40 165.87,221.93 167.16,228.92 168.45,217.73 169.74,226.24 171.02,216.34 172.31,216.00 173.60,225.32 174.89,211.87 176.18,223.13 177.47,182.78 178.76,218.82 180.05,198.23 181.33,199.44 182.62,216.13 183.91,215.90 185.20,192.94 186.49,212.65 187.78,186.76 189.07,206.99 190.36,209.07 191.64,163.92 192.93,182.25 194.22,182.74 195.51,182.71 196.80,190.34 198.09,176.20 199.38,192.05 200.67,176.16 201.96,191.12 203.24,175.05 204.53,156.70 205.82,167.73 207.11,180.58 208.40,161.64 209.69,149.76 210.98,171.81 212.27,147.54 213.55,154.16 214.84,172.47 216.13,175.94 217.42,201.10 218.71,227.46 220.00,209.83 221.29,228.67 222.58,229.53 223.86,210.05 225.15,225.54 226.44,211.24 227.73,223.54 229.02,209.91 230.31,226.65 231.60,210.12 232.89,228.74 234.18,213.60 235.46,209.46 236.75,214.32 238.04,229.11 239.33,216.68 240.62,232.03 241.91,214.35 243.20,227.92 244.49,214.11 245.77,209.80 247.06,230.14 248.35,212.43 249.64,228.60 250.93,207.66 252.22,208.59 253.51,223.64 254.80,215.47 256.08,198.05 257.37,213.48 258.66,232.59 259.95,198.60 261.24,212.67 262.53,213.81 263.82,229.98 265.11,214.76 266.40,227.33 267.68,217.42 268.97,229.27 270.26,210.17 271.55,228.64 272.84,218.31 274.13,215.57 275.42,227.03 276.71,227.51 277.99,208.74 279.28,209.17 280.57,226.14 281.86,201.38 283.15,234.40 284.44,209.24 285.73,209.90 287.02,231.14 288.30,211.30 289.59,231.26 290.88,209.86 292.17,215.56 293.46,227.32 294.75,212.06 296.04,215.37 297.33,216.99 298.62,227.72 299.90,215.43 301.19,230.25 302.48,215.74 303.77,226.87 305.06,213.40 306.35,228.01 307.64,207.47 308.93,228.32 310.21,212.31 311.50,223.63 312.79,216.62 314.08,227.04 315.37,228.99 316.66,226.49 317.95,209.65 319.24,226.95 320.52,211.30 321.81,213.58 323.10,213.52 324.39,230.79 325.68,210.42 326.97,210.34 328.26,228.04 329.55,229.00 330.84,211.86 332.12,209.24 333.41,223.24 334.70,208.64 335.99,212.53 337.28,227.31 338.57,215.41 339.86,226.92 341.15,216.85 342.43,229.72 343.72,225.48 345.01,210.88 346.30,213.86 347.59,232.37 348.88,215.74 350.17,231.95 351.46,209.36 352.74,223.92 354.03,207.98 355.32,212.56 356.61,227.57 357.90,210.17 359.19,224.31 360.48,225.44 361.77,216.41 363.06,229.16 364.34,202.77 365.63,222.75" fill="none" stroke="#ff10ff" stroke-width="1.25" stroke-linejoin="miter" stroke-miterlimit="3"/><text x="101.0" y="174.0" font-size="13.3" font-weight="bold" fill="#000" stroke="#000" stroke-width="0.38" textLength="6.3" lengthAdjust="spacingAndGlyphs">P</text></g>
<g><rect x="381.4" y="136.5" width="373.00" height="117.80" fill="none" stroke="#585858" stroke-width="1.1"/><text x="556.10" y="143.6" font-size="6.4" fill="#222" stroke="#222" stroke-width="0.12" textLength="13.2" lengthAdjust="spacingAndGlyphs">P Kα1</text><line x1="408.70" y1="233.80" x2="412.70" y2="233.80" stroke="#555" stroke-width="0.9"/><text x="405.60" y="236.30" font-size="6.5" fill="#3a3a3a" stroke="#3a3a3a" stroke-width="0.12" textLength="2.70" lengthAdjust="spacingAndGlyphs">0</text><line x1="411.60" y1="232.04" x2="412.60" y2="232.04" stroke="#777" stroke-width="0.8"/><line x1="411.60" y1="230.27" x2="412.60" y2="230.27" stroke="#777" stroke-width="0.8"/><line x1="411.60" y1="228.51" x2="412.60" y2="228.51" stroke="#777" stroke-width="0.8"/><line x1="411.60" y1="226.74" x2="412.60" y2="226.74" stroke="#777" stroke-width="0.8"/><line x1="410.30" y1="224.98" x2="412.70" y2="224.98" stroke="#666" stroke-width="0.8"/><line x1="411.60" y1="223.22" x2="412.60" y2="223.22" stroke="#777" stroke-width="0.8"/><line x1="411.60" y1="221.45" x2="412.60" y2="221.45" stroke="#777" stroke-width="0.8"/><line x1="411.60" y1="219.69" x2="412.60" y2="219.69" stroke="#777" stroke-width="0.8"/><line x1="411.60" y1="217.92" x2="412.60" y2="217.92" stroke="#777" stroke-width="0.8"/><line x1="408.70" y1="216.16" x2="412.70" y2="216.16" stroke="#555" stroke-width="0.9"/><text x="402.90" y="218.66" font-size="6.5" fill="#3a3a3a" stroke="#3a3a3a" stroke-width="0.12" textLength="5.40" lengthAdjust="spacingAndGlyphs">60</text><line x1="411.60" y1="214.40" x2="412.60" y2="214.40" stroke="#777" stroke-width="0.8"/><line x1="411.60" y1="212.63" x2="412.60" y2="212.63" stroke="#777" stroke-width="0.8"/><line x1="411.60" y1="210.87" x2="412.60" y2="210.87" stroke="#777" stroke-width="0.8"/><line x1="411.60" y1="209.10" x2="412.60" y2="209.10" stroke="#777" stroke-width="0.8"/><line x1="410.30" y1="207.34" x2="412.70" y2="207.34" stroke="#666" stroke-width="0.8"/><line x1="411.60" y1="205.58" x2="412.60" y2="205.58" stroke="#777" stroke-width="0.8"/><line x1="411.60" y1="203.81" x2="412.60" y2="203.81" stroke="#777" stroke-width="0.8"/><line x1="411.60" y1="202.05" x2="412.60" y2="202.05" stroke="#777" stroke-width="0.8"/><line x1="411.60" y1="200.28" x2="412.60" y2="200.28" stroke="#777" stroke-width="0.8"/><line x1="408.70" y1="198.52" x2="412.70" y2="198.52" stroke="#555" stroke-width="0.9"/><text x="400.20" y="201.02" font-size="6.5" fill="#3a3a3a" stroke="#3a3a3a" stroke-width="0.12" textLength="8.10" lengthAdjust="spacingAndGlyphs">120</text><line x1="411.60" y1="196.76" x2="412.60" y2="196.76" stroke="#777" stroke-width="0.8"/><line x1="411.60" y1="194.99" x2="412.60" y2="194.99" stroke="#777" stroke-width="0.8"/><line x1="411.60" y1="193.23" x2="412.60" y2="193.23" stroke="#777" stroke-width="0.8"/><line x1="411.60" y1="191.46" x2="412.60" y2="191.46" stroke="#777" stroke-width="0.8"/><line x1="410.30" y1="189.70" x2="412.70" y2="189.70" stroke="#666" stroke-width="0.8"/><line x1="411.60" y1="187.94" x2="412.60" y2="187.94" stroke="#777" stroke-width="0.8"/><line x1="411.60" y1="186.17" x2="412.60" y2="186.17" stroke="#777" stroke-width="0.8"/><line x1="411.60" y1="184.41" x2="412.60" y2="184.41" stroke="#777" stroke-width="0.8"/><line x1="411.60" y1="182.64" x2="412.60" y2="182.64" stroke="#777" stroke-width="0.8"/><line x1="408.70" y1="180.88" x2="412.70" y2="180.88" stroke="#555" stroke-width="0.9"/><text x="400.20" y="183.38" font-size="6.5" fill="#3a3a3a" stroke="#3a3a3a" stroke-width="0.12" textLength="8.10" lengthAdjust="spacingAndGlyphs">180</text><line x1="411.60" y1="179.12" x2="412.60" y2="179.12" stroke="#777" stroke-width="0.8"/><line x1="411.60" y1="177.35" x2="412.60" y2="177.35" stroke="#777" stroke-width="0.8"/><line x1="411.60" y1="175.59" x2="412.60" y2="175.59" stroke="#777" stroke-width="0.8"/><line x1="411.60" y1="173.82" x2="412.60" y2="173.82" stroke="#777" stroke-width="0.8"/><line x1="410.30" y1="172.06" x2="412.70" y2="172.06" stroke="#666" stroke-width="0.8"/><line x1="411.60" y1="170.30" x2="412.60" y2="170.30" stroke="#777" stroke-width="0.8"/><line x1="411.60" y1="168.53" x2="412.60" y2="168.53" stroke="#777" stroke-width="0.8"/><line x1="411.60" y1="166.77" x2="412.60" y2="166.77" stroke="#777" stroke-width="0.8"/><line x1="411.60" y1="165.00" x2="412.60" y2="165.00" stroke="#777" stroke-width="0.8"/><line x1="408.70" y1="163.24" x2="412.70" y2="163.24" stroke="#555" stroke-width="0.9"/><text x="400.20" y="165.74" font-size="6.5" fill="#3a3a3a" stroke="#3a3a3a" stroke-width="0.12" textLength="8.10" lengthAdjust="spacingAndGlyphs">240</text><line x1="411.60" y1="161.48" x2="412.60" y2="161.48" stroke="#777" stroke-width="0.8"/><line x1="411.60" y1="159.71" x2="412.60" y2="159.71" stroke="#777" stroke-width="0.8"/><line x1="411.60" y1="157.95" x2="412.60" y2="157.95" stroke="#777" stroke-width="0.8"/><line x1="411.60" y1="156.18" x2="412.60" y2="156.18" stroke="#777" stroke-width="0.8"/><line x1="410.30" y1="154.42" x2="412.70" y2="154.42" stroke="#666" stroke-width="0.8"/><line x1="411.60" y1="152.66" x2="412.60" y2="152.66" stroke="#777" stroke-width="0.8"/><line x1="411.60" y1="150.89" x2="412.60" y2="150.89" stroke="#777" stroke-width="0.8"/><line x1="411.60" y1="149.13" x2="412.60" y2="149.13" stroke="#777" stroke-width="0.8"/><line x1="411.60" y1="147.36" x2="412.60" y2="147.36" stroke="#777" stroke-width="0.8"/><line x1="412.30" y1="234.10" x2="742.70" y2="234.10" stroke="#a0a0a0" stroke-width="0.9"/><line x1="412.80" y1="233.80" x2="412.80" y2="237.80" stroke="#666" stroke-width="0.9"/><text x="411.28" y="244.70" font-size="6.6" fill="#3a3a3a" stroke="#3a3a3a" stroke-width="0.12" textLength="3.05" lengthAdjust="spacingAndGlyphs">0</text><line x1="419.21" y1="233.80" x2="419.21" y2="236.00" stroke="#777" stroke-width="0.8"/><line x1="425.62" y1="233.80" x2="425.62" y2="237.80" stroke="#666" stroke-width="0.9"/><text x="424.10" y="244.70" font-size="6.6" fill="#3a3a3a" stroke="#3a3a3a" stroke-width="0.12" textLength="3.05" lengthAdjust="spacingAndGlyphs">2</text><line x1="432.04" y1="233.80" x2="432.04" y2="236.00" stroke="#777" stroke-width="0.8"/><line x1="438.45" y1="233.80" x2="438.45" y2="237.80" stroke="#666" stroke-width="0.9"/><text x="436.92" y="244.70" font-size="6.6" fill="#3a3a3a" stroke="#3a3a3a" stroke-width="0.12" textLength="3.05" lengthAdjust="spacingAndGlyphs">4</text><line x1="444.86" y1="233.80" x2="444.86" y2="236.00" stroke="#777" stroke-width="0.8"/><line x1="451.27" y1="233.80" x2="451.27" y2="237.80" stroke="#666" stroke-width="0.9"/><text x="449.75" y="244.70" font-size="6.6" fill="#3a3a3a" stroke="#3a3a3a" stroke-width="0.12" textLength="3.05" lengthAdjust="spacingAndGlyphs">6</text><line x1="457.68" y1="233.80" x2="457.68" y2="236.00" stroke="#777" stroke-width="0.8"/><line x1="464.10" y1="233.80" x2="464.10" y2="237.80" stroke="#666" stroke-width="0.9"/><text x="462.57" y="244.70" font-size="6.6" fill="#3a3a3a" stroke="#3a3a3a" stroke-width="0.12" textLength="3.05" lengthAdjust="spacingAndGlyphs">8</text><line x1="470.51" y1="233.80" x2="470.51" y2="236.00" stroke="#777" stroke-width="0.8"/><line x1="476.92" y1="233.80" x2="476.92" y2="237.80" stroke="#666" stroke-width="0.9"/><text x="473.87" y="244.70" font-size="6.6" fill="#3a3a3a" stroke="#3a3a3a" stroke-width="0.12" textLength="6.10" lengthAdjust="spacingAndGlyphs">10</text><line x1="483.33" y1="233.80" x2="483.33" y2="236.00" stroke="#777" stroke-width="0.8"/><line x1="489.74" y1="233.80" x2="489.74" y2="237.80" stroke="#666" stroke-width="0.9"/><text x="486.69" y="244.70" font-size="6.6" fill="#3a3a3a" stroke="#3a3a3a" stroke-width="0.12" textLength="6.10" lengthAdjust="spacingAndGlyphs">12</text><line x1="496.16" y1="233.80" x2="496.16" y2="236.00" stroke="#777" stroke-width="0.8"/><line x1="502.57" y1="233.80" x2="502.57" y2="237.80" stroke="#666" stroke-width="0.9"/><text x="499.52" y="244.70" font-size="6.6" fill="#3a3a3a" stroke="#3a3a3a" stroke-width="0.12" textLength="6.10" lengthAdjust="spacingAndGlyphs">14</text><line x1="508.98" y1="233.80" x2="508.98" y2="236.00" stroke="#777" stroke-width="0.8"/><line x1="515.39" y1="233.80" x2="515.39" y2="237.80" stroke="#666" stroke-width="0.9"/><text x="512.34" y="244.70" font-size="6.6" fill="#3a3a3a" stroke="#3a3a3a" stroke-width="0.12" textLength="6.10" lengthAdjust="spacingAndGlyphs">16</text><line x1="521.80" y1="233.80" x2="521.80" y2="236.00" stroke="#777" stroke-width="0.8"/><line x1="528.22" y1="233.80" x2="528.22" y2="237.80" stroke="#666" stroke-width="0.9"/><text x="525.17" y="244.70" font-size="6.6" fill="#3a3a3a" stroke="#3a3a3a" stroke-width="0.12" textLength="6.10" lengthAdjust="spacingAndGlyphs">18</text><line x1="534.63" y1="233.80" x2="534.63" y2="236.00" stroke="#777" stroke-width="0.8"/><line x1="541.04" y1="233.80" x2="541.04" y2="237.80" stroke="#666" stroke-width="0.9"/><text x="537.99" y="244.70" font-size="6.6" fill="#3a3a3a" stroke="#3a3a3a" stroke-width="0.12" textLength="6.10" lengthAdjust="spacingAndGlyphs">20</text><line x1="547.45" y1="233.80" x2="547.45" y2="236.00" stroke="#777" stroke-width="0.8"/><line x1="553.86" y1="233.80" x2="553.86" y2="237.80" stroke="#666" stroke-width="0.9"/><text x="550.81" y="244.70" font-size="6.6" fill="#3a3a3a" stroke="#3a3a3a" stroke-width="0.12" textLength="6.10" lengthAdjust="spacingAndGlyphs">22</text><line x1="560.28" y1="233.80" x2="560.28" y2="236.00" stroke="#777" stroke-width="0.8"/><line x1="566.69" y1="233.80" x2="566.69" y2="237.80" stroke="#666" stroke-width="0.9"/><text x="563.64" y="244.70" font-size="6.6" fill="#3a3a3a" stroke="#3a3a3a" stroke-width="0.12" textLength="6.10" lengthAdjust="spacingAndGlyphs">24</text><line x1="573.10" y1="233.80" x2="573.10" y2="236.00" stroke="#777" stroke-width="0.8"/><line x1="579.51" y1="233.80" x2="579.51" y2="237.80" stroke="#666" stroke-width="0.9"/><text x="576.46" y="244.70" font-size="6.6" fill="#3a3a3a" stroke="#3a3a3a" stroke-width="0.12" textLength="6.10" lengthAdjust="spacingAndGlyphs">26</text><line x1="585.92" y1="233.80" x2="585.92" y2="236.00" stroke="#777" stroke-width="0.8"/><line x1="592.34" y1="233.80" x2="592.34" y2="237.80" stroke="#666" stroke-width="0.9"/><text x="589.29" y="244.70" font-size="6.6" fill="#3a3a3a" stroke="#3a3a3a" stroke-width="0.12" textLength="6.10" lengthAdjust="spacingAndGlyphs">28</text><line x1="598.75" y1="233.80" x2="598.75" y2="236.00" stroke="#777" stroke-width="0.8"/><line x1="605.16" y1="233.80" x2="605.16" y2="237.80" stroke="#666" stroke-width="0.9"/><text x="602.11" y="244.70" font-size="6.6" fill="#3a3a3a" stroke="#3a3a3a" stroke-width="0.12" textLength="6.10" lengthAdjust="spacingAndGlyphs">30</text><line x1="611.57" y1="233.80" x2="611.57" y2="236.00" stroke="#777" stroke-width="0.8"/><line x1="617.98" y1="233.80" x2="617.98" y2="237.80" stroke="#666" stroke-width="0.9"/><text x="614.93" y="244.70" font-size="6.6" fill="#3a3a3a" stroke="#3a3a3a" stroke-width="0.12" textLength="6.10" lengthAdjust="spacingAndGlyphs">32</text><line x1="624.40" y1="233.80" x2="624.40" y2="236.00" stroke="#777" stroke-width="0.8"/><line x1="630.81" y1="233.80" x2="630.81" y2="237.80" stroke="#666" stroke-width="0.9"/><text x="627.76" y="244.70" font-size="6.6" fill="#3a3a3a" stroke="#3a3a3a" stroke-width="0.12" textLength="6.10" lengthAdjust="spacingAndGlyphs">34</text><line x1="637.22" y1="233.80" x2="637.22" y2="236.00" stroke="#777" stroke-width="0.8"/><line x1="643.63" y1="233.80" x2="643.63" y2="237.80" stroke="#666" stroke-width="0.9"/><text x="640.58" y="244.70" font-size="6.6" fill="#3a3a3a" stroke="#3a3a3a" stroke-width="0.12" textLength="6.10" lengthAdjust="spacingAndGlyphs">36</text><line x1="650.04" y1="233.80" x2="650.04" y2="236.00" stroke="#777" stroke-width="0.8"/><line x1="656.46" y1="233.80" x2="656.46" y2="237.80" stroke="#666" stroke-width="0.9"/><text x="653.41" y="244.70" font-size="6.6" fill="#3a3a3a" stroke="#3a3a3a" stroke-width="0.12" textLength="6.10" lengthAdjust="spacingAndGlyphs">38</text><line x1="662.87" y1="233.80" x2="662.87" y2="236.00" stroke="#777" stroke-width="0.8"/><line x1="669.28" y1="233.80" x2="669.28" y2="237.80" stroke="#666" stroke-width="0.9"/><text x="666.23" y="244.70" font-size="6.6" fill="#3a3a3a" stroke="#3a3a3a" stroke-width="0.12" textLength="6.10" lengthAdjust="spacingAndGlyphs">40</text><line x1="675.69" y1="233.80" x2="675.69" y2="236.00" stroke="#777" stroke-width="0.8"/><line x1="682.10" y1="233.80" x2="682.10" y2="237.80" stroke="#666" stroke-width="0.9"/><text x="679.05" y="244.70" font-size="6.6" fill="#3a3a3a" stroke="#3a3a3a" stroke-width="0.12" textLength="6.10" lengthAdjust="spacingAndGlyphs">42</text><line x1="688.52" y1="233.80" x2="688.52" y2="236.00" stroke="#777" stroke-width="0.8"/><line x1="694.93" y1="233.80" x2="694.93" y2="237.80" stroke="#666" stroke-width="0.9"/><text x="691.88" y="244.70" font-size="6.6" fill="#3a3a3a" stroke="#3a3a3a" stroke-width="0.12" textLength="6.10" lengthAdjust="spacingAndGlyphs">44</text><line x1="701.34" y1="233.80" x2="701.34" y2="236.00" stroke="#777" stroke-width="0.8"/><line x1="707.75" y1="233.80" x2="707.75" y2="237.80" stroke="#666" stroke-width="0.9"/><text x="704.70" y="244.70" font-size="6.6" fill="#3a3a3a" stroke="#3a3a3a" stroke-width="0.12" textLength="6.10" lengthAdjust="spacingAndGlyphs">46</text><line x1="714.16" y1="233.80" x2="714.16" y2="236.00" stroke="#777" stroke-width="0.8"/><line x1="720.58" y1="233.80" x2="720.58" y2="237.80" stroke="#666" stroke-width="0.9"/><text x="717.53" y="244.70" font-size="6.6" fill="#3a3a3a" stroke="#3a3a3a" stroke-width="0.12" textLength="6.10" lengthAdjust="spacingAndGlyphs">48</text><line x1="726.99" y1="233.80" x2="726.99" y2="236.00" stroke="#777" stroke-width="0.8"/><line x1="733.40" y1="233.80" x2="733.40" y2="237.80" stroke="#666" stroke-width="0.9"/><text x="730.35" y="244.70" font-size="6.6" fill="#3a3a3a" stroke="#3a3a3a" stroke-width="0.12" textLength="6.10" lengthAdjust="spacingAndGlyphs">50</text><line x1="739.81" y1="233.80" x2="739.81" y2="236.00" stroke="#777" stroke-width="0.8"/><text x="735.90" y="251.60" font-size="5.8" fill="#3a3a3a" stroke="#3a3a3a" stroke-width="0.1" textLength="7.6" lengthAdjust="spacingAndGlyphs">µm</text><polyline points="412.80,221.19 414.08,227.48 415.36,218.16 416.65,210.87 417.93,229.83 419.21,215.82 420.49,227.96 421.78,228.24 423.06,220.62 424.34,233.80 425.62,222.94 426.91,233.34 428.19,217.39 429.47,229.82 430.75,217.76 432.04,230.97 433.32,216.33 434.60,222.48 435.88,232.81 437.17,217.91 438.45,227.20 439.73,207.93 441.01,227.27 442.30,220.64 443.58,216.86 444.86,230.08 446.14,215.85 447.42,227.54 448.71,213.60 449.99,227.65 451.27,219.34 452.55,230.27 453.84,216.29 455.12,228.91 456.40,217.49 457.68,232.82 458.97,217.83 460.25,230.69 461.53,219.22 462.81,227.92 464.10,217.89 465.38,228.68 466.66,213.35 467.94,231.24 469.23,227.69 470.51,230.21 471.79,215.63 473.07,227.02 474.36,220.72 475.64,226.46 476.92,215.93 478.20,226.53 479.48,214.72 480.77,230.00 482.05,226.81 483.33,219.21 484.61,231.49 485.90,227.05 487.18,233.40 488.46,219.21 489.74,231.84 491.03,219.17 492.31,216.98 493.59,230.04 494.87,216.27 496.16,218.52 497.44,230.15 498.72,218.94 500.00,203.22 501.29,227.93 502.57,218.03 503.85,229.45 505.13,227.96 506.42,219.13 507.70,231.01 508.98,216.15 510.26,229.33 511.54,226.93 512.83,215.03 514.11,228.95 515.39,215.34 516.67,232.14 517.96,221.04 519.24,218.52 520.52,232.47 521.80,220.73 523.09,230.70 524.37,217.52 525.65,233.15 526.93,233.80 528.22,215.48 529.50,228.81 530.78,230.34 532.06,215.82 533.35,225.32 534.63,215.89 535.91,228.19 537.19,214.15 538.48,202.64 539.76,211.94 541.04,228.12 542.32,207.82 543.60,227.12 544.89,224.25 546.17,213.66 547.45,210.81 548.73,223.93 550.02,226.43 551.30,197.93 552.58,225.56 553.86,205.48 555.15,228.06 556.43,210.92 557.71,201.75 558.99,211.34 560.28,222.80 561.56,204.24 562.84,221.76 564.12,207.35 565.41,220.27 566.69,211.89 567.97,196.00 569.25,169.45 570.54,158.99 571.82,148.95 573.10,159.32 574.38,146.19 575.66,184.81 576.95,176.64 578.23,161.24 579.51,165.21 580.79,160.07 582.08,146.19 583.36,174.79 584.64,176.33 585.92,181.63 587.21,193.23 588.49,189.28 589.77,190.06 591.05,202.79 592.34,194.32 593.62,205.91 594.90,202.98 596.18,205.11 597.47,223.65 598.75,226.87 600.03,233.80 601.31,228.27 602.60,210.42 603.88,220.48 605.16,206.38 606.44,224.99 607.72,205.56 609.01,207.67 610.29,210.38 611.57,229.95 612.85,209.45 614.14,222.76 615.42,209.83 616.70,228.25 617.98,208.84 619.27,222.27 620.55,204.51 621.83,193.82 623.11,208.54 624.40,220.92 625.68,206.72 626.96,222.79 628.24,211.52 629.53,228.45 630.81,210.88 632.09,231.66 633.37,223.92 634.66,213.32 635.94,228.18 637.22,196.17 638.50,229.34 639.78,225.70 641.07,194.40 642.35,206.42 643.63,228.78 644.91,208.46 646.20,221.84 647.48,210.67 648.76,225.52 650.04,228.08 651.33,225.53 652.61,227.54 653.89,226.77 655.17,215.81 656.46,214.60 657.74,207.75 659.02,224.80 660.30,208.76 661.59,231.36 662.87,208.40 664.15,229.34 665.43,221.84 666.72,227.03 668.00,207.59 669.28,222.09 670.56,208.99 671.84,225.65 673.13,206.22 674.41,220.78 675.69,204.08 676.97,230.32 678.26,210.34 679.54,222.65 680.82,212.67 682.10,222.36 683.39,209.90 684.67,225.42 685.95,189.70 687.23,224.22 688.52,207.89 689.80,226.08 691.08,205.97 692.36,224.73 693.65,203.32 694.93,224.29 696.21,227.37 697.49,210.03 698.78,224.59 700.06,211.51 701.34,226.98 702.62,205.89 703.90,227.92 705.19,213.05 706.47,224.64 707.75,211.42 709.03,222.26 710.32,206.41 711.60,223.13 712.88,212.63 714.16,225.18 715.45,214.31 716.73,211.43 718.01,209.57 719.29,221.42 720.58,207.24 721.86,223.80 723.14,225.51 724.42,207.00 725.71,228.08 726.99,214.37 728.27,204.59 729.55,229.35 730.84,212.34 732.12,221.20 733.40,223.49 734.68,210.36 735.96,229.19 737.25,212.29 738.53,222.58 739.81,204.63 741.09,206.51" fill="none" stroke="#fff200" stroke-width="1.25" stroke-linejoin="miter" stroke-miterlimit="3"/><text x="458.0" y="187.3" font-size="13.3" font-weight="bold" fill="#000" stroke="#000" stroke-width="0.38" textLength="6.6" lengthAdjust="spacingAndGlyphs">P</text></g>
<g><rect x="4.6" y="270.5" width="371.00" height="116.60" fill="none" stroke="#585858" stroke-width="1.1"/><text x="174.75" y="277.6" font-size="6.4" fill="#222" stroke="#222" stroke-width="0.12" textLength="19.5" lengthAdjust="spacingAndGlyphs">Zn Lα1,2</text><line x1="31.70" y1="366.80" x2="35.70" y2="366.80" stroke="#555" stroke-width="0.9"/><text x="28.60" y="369.30" font-size="6.5" fill="#3a3a3a" stroke="#3a3a3a" stroke-width="0.12" textLength="2.70" lengthAdjust="spacingAndGlyphs">0</text><line x1="34.60" y1="364.17" x2="35.60" y2="364.17" stroke="#777" stroke-width="0.8"/><line x1="34.60" y1="361.54" x2="35.60" y2="361.54" stroke="#777" stroke-width="0.8"/><line x1="34.60" y1="358.91" x2="35.60" y2="358.91" stroke="#777" stroke-width="0.8"/><line x1="34.60" y1="356.28" x2="35.60" y2="356.28" stroke="#777" stroke-width="0.8"/><line x1="33.30" y1="353.65" x2="35.70" y2="353.65" stroke="#666" stroke-width="0.8"/><line x1="34.60" y1="351.02" x2="35.60" y2="351.02" stroke="#777" stroke-width="0.8"/><line x1="34.60" y1="348.39" x2="35.60" y2="348.39" stroke="#777" stroke-width="0.8"/><line x1="34.60" y1="345.76" x2="35.60" y2="345.76" stroke="#777" stroke-width="0.8"/><line x1="34.60" y1="343.13" x2="35.60" y2="343.13" stroke="#777" stroke-width="0.8"/><line x1="31.70" y1="340.50" x2="35.70" y2="340.50" stroke="#555" stroke-width="0.9"/><text x="23.20" y="343.00" font-size="6.5" fill="#3a3a3a" stroke="#3a3a3a" stroke-width="0.12" textLength="8.10" lengthAdjust="spacingAndGlyphs">100</text><line x1="34.60" y1="337.87" x2="35.60" y2="337.87" stroke="#777" stroke-width="0.8"/><line x1="34.60" y1="335.24" x2="35.60" y2="335.24" stroke="#777" stroke-width="0.8"/><line x1="34.60" y1="332.61" x2="35.60" y2="332.61" stroke="#777" stroke-width="0.8"/><line x1="34.60" y1="329.98" x2="35.60" y2="329.98" stroke="#777" stroke-width="0.8"/><line x1="33.30" y1="327.35" x2="35.70" y2="327.35" stroke="#666" stroke-width="0.8"/><line x1="34.60" y1="324.72" x2="35.60" y2="324.72" stroke="#777" stroke-width="0.8"/><line x1="34.60" y1="322.09" x2="35.60" y2="322.09" stroke="#777" stroke-width="0.8"/><line x1="34.60" y1="319.46" x2="35.60" y2="319.46" stroke="#777" stroke-width="0.8"/><line x1="34.60" y1="316.83" x2="35.60" y2="316.83" stroke="#777" stroke-width="0.8"/><line x1="31.70" y1="314.20" x2="35.70" y2="314.20" stroke="#555" stroke-width="0.9"/><text x="23.20" y="316.70" font-size="6.5" fill="#3a3a3a" stroke="#3a3a3a" stroke-width="0.12" textLength="8.10" lengthAdjust="spacingAndGlyphs">200</text><line x1="34.60" y1="311.57" x2="35.60" y2="311.57" stroke="#777" stroke-width="0.8"/><line x1="34.60" y1="308.94" x2="35.60" y2="308.94" stroke="#777" stroke-width="0.8"/><line x1="34.60" y1="306.31" x2="35.60" y2="306.31" stroke="#777" stroke-width="0.8"/><line x1="34.60" y1="303.68" x2="35.60" y2="303.68" stroke="#777" stroke-width="0.8"/><line x1="33.30" y1="301.05" x2="35.70" y2="301.05" stroke="#666" stroke-width="0.8"/><line x1="34.60" y1="298.42" x2="35.60" y2="298.42" stroke="#777" stroke-width="0.8"/><line x1="34.60" y1="295.79" x2="35.60" y2="295.79" stroke="#777" stroke-width="0.8"/><line x1="34.60" y1="293.16" x2="35.60" y2="293.16" stroke="#777" stroke-width="0.8"/><line x1="34.60" y1="290.53" x2="35.60" y2="290.53" stroke="#777" stroke-width="0.8"/><line x1="31.70" y1="287.90" x2="35.70" y2="287.90" stroke="#555" stroke-width="0.9"/><text x="23.20" y="290.40" font-size="6.5" fill="#3a3a3a" stroke="#3a3a3a" stroke-width="0.12" textLength="8.10" lengthAdjust="spacingAndGlyphs">300</text><line x1="34.60" y1="285.27" x2="35.60" y2="285.27" stroke="#777" stroke-width="0.8"/><line x1="34.60" y1="282.64" x2="35.60" y2="282.64" stroke="#777" stroke-width="0.8"/><line x1="35.20" y1="367.10" x2="364.99" y2="367.10" stroke="#a0a0a0" stroke-width="0.9"/><line x1="35.70" y1="366.80" x2="35.70" y2="370.80" stroke="#666" stroke-width="0.9"/><text x="34.18" y="377.70" font-size="6.6" fill="#3a3a3a" stroke="#3a3a3a" stroke-width="0.12" textLength="3.05" lengthAdjust="spacingAndGlyphs">0</text><line x1="42.14" y1="366.80" x2="42.14" y2="369.00" stroke="#777" stroke-width="0.8"/><line x1="48.59" y1="366.80" x2="48.59" y2="370.80" stroke="#666" stroke-width="0.9"/><text x="47.06" y="377.70" font-size="6.6" fill="#3a3a3a" stroke="#3a3a3a" stroke-width="0.12" textLength="3.05" lengthAdjust="spacingAndGlyphs">2</text><line x1="55.03" y1="366.80" x2="55.03" y2="369.00" stroke="#777" stroke-width="0.8"/><line x1="61.48" y1="366.80" x2="61.48" y2="370.80" stroke="#666" stroke-width="0.9"/><text x="59.95" y="377.70" font-size="6.6" fill="#3a3a3a" stroke="#3a3a3a" stroke-width="0.12" textLength="3.05" lengthAdjust="spacingAndGlyphs">4</text><line x1="67.92" y1="366.80" x2="67.92" y2="369.00" stroke="#777" stroke-width="0.8"/><line x1="74.36" y1="366.80" x2="74.36" y2="370.80" stroke="#666" stroke-width="0.9"/><text x="72.84" y="377.70" font-size="6.6" fill="#3a3a3a" stroke="#3a3a3a" stroke-width="0.12" textLength="3.05" lengthAdjust="spacingAndGlyphs">6</text><line x1="80.81" y1="366.80" x2="80.81" y2="369.00" stroke="#777" stroke-width="0.8"/><line x1="87.25" y1="366.80" x2="87.25" y2="370.80" stroke="#666" stroke-width="0.9"/><text x="85.73" y="377.70" font-size="6.6" fill="#3a3a3a" stroke="#3a3a3a" stroke-width="0.12" textLength="3.05" lengthAdjust="spacingAndGlyphs">8</text><line x1="93.70" y1="366.80" x2="93.70" y2="369.00" stroke="#777" stroke-width="0.8"/><line x1="100.14" y1="366.80" x2="100.14" y2="370.80" stroke="#666" stroke-width="0.9"/><text x="97.09" y="377.70" font-size="6.6" fill="#3a3a3a" stroke="#3a3a3a" stroke-width="0.12" textLength="6.10" lengthAdjust="spacingAndGlyphs">10</text><line x1="106.58" y1="366.80" x2="106.58" y2="369.00" stroke="#777" stroke-width="0.8"/><line x1="113.03" y1="366.80" x2="113.03" y2="370.80" stroke="#666" stroke-width="0.9"/><text x="109.98" y="377.70" font-size="6.6" fill="#3a3a3a" stroke="#3a3a3a" stroke-width="0.12" textLength="6.10" lengthAdjust="spacingAndGlyphs">12</text><line x1="119.47" y1="366.80" x2="119.47" y2="369.00" stroke="#777" stroke-width="0.8"/><line x1="125.92" y1="366.80" x2="125.92" y2="370.80" stroke="#666" stroke-width="0.9"/><text x="122.87" y="377.70" font-size="6.6" fill="#3a3a3a" stroke="#3a3a3a" stroke-width="0.12" textLength="6.10" lengthAdjust="spacingAndGlyphs">14</text><line x1="132.36" y1="366.80" x2="132.36" y2="369.00" stroke="#777" stroke-width="0.8"/><line x1="138.80" y1="366.80" x2="138.80" y2="370.80" stroke="#666" stroke-width="0.9"/><text x="135.75" y="377.70" font-size="6.6" fill="#3a3a3a" stroke="#3a3a3a" stroke-width="0.12" textLength="6.10" lengthAdjust="spacingAndGlyphs">16</text><line x1="145.25" y1="366.80" x2="145.25" y2="369.00" stroke="#777" stroke-width="0.8"/><line x1="151.69" y1="366.80" x2="151.69" y2="370.80" stroke="#666" stroke-width="0.9"/><text x="148.64" y="377.70" font-size="6.6" fill="#3a3a3a" stroke="#3a3a3a" stroke-width="0.12" textLength="6.10" lengthAdjust="spacingAndGlyphs">18</text><line x1="158.14" y1="366.80" x2="158.14" y2="369.00" stroke="#777" stroke-width="0.8"/><line x1="164.58" y1="366.80" x2="164.58" y2="370.80" stroke="#666" stroke-width="0.9"/><text x="161.53" y="377.70" font-size="6.6" fill="#3a3a3a" stroke="#3a3a3a" stroke-width="0.12" textLength="6.10" lengthAdjust="spacingAndGlyphs">20</text><line x1="171.02" y1="366.80" x2="171.02" y2="369.00" stroke="#777" stroke-width="0.8"/><line x1="177.47" y1="366.80" x2="177.47" y2="370.80" stroke="#666" stroke-width="0.9"/><text x="174.42" y="377.70" font-size="6.6" fill="#3a3a3a" stroke="#3a3a3a" stroke-width="0.12" textLength="6.10" lengthAdjust="spacingAndGlyphs">22</text><line x1="183.91" y1="366.80" x2="183.91" y2="369.00" stroke="#777" stroke-width="0.8"/><line x1="190.36" y1="366.80" x2="190.36" y2="370.80" stroke="#666" stroke-width="0.9"/><text x="187.31" y="377.70" font-size="6.6" fill="#3a3a3a" stroke="#3a3a3a" stroke-width="0.12" textLength="6.10" lengthAdjust="spacingAndGlyphs">24</text><line x1="196.80" y1="366.80" x2="196.80" y2="369.00" stroke="#777" stroke-width="0.8"/><line x1="203.24" y1="366.80" x2="203.24" y2="370.80" stroke="#666" stroke-width="0.9"/><text x="200.19" y="377.70" font-size="6.6" fill="#3a3a3a" stroke="#3a3a3a" stroke-width="0.12" textLength="6.10" lengthAdjust="spacingAndGlyphs">26</text><line x1="209.69" y1="366.80" x2="209.69" y2="369.00" stroke="#777" stroke-width="0.8"/><line x1="216.13" y1="366.80" x2="216.13" y2="370.80" stroke="#666" stroke-width="0.9"/><text x="213.08" y="377.70" font-size="6.6" fill="#3a3a3a" stroke="#3a3a3a" stroke-width="0.12" textLength="6.10" lengthAdjust="spacingAndGlyphs">28</text><line x1="222.58" y1="366.80" x2="222.58" y2="369.00" stroke="#777" stroke-width="0.8"/><line x1="229.02" y1="366.80" x2="229.02" y2="370.80" stroke="#666" stroke-width="0.9"/><text x="225.97" y="377.70" font-size="6.6" fill="#3a3a3a" stroke="#3a3a3a" stroke-width="0.12" textLength="6.10" lengthAdjust="spacingAndGlyphs">30</text><line x1="235.46" y1="366.80" x2="235.46" y2="369.00" stroke="#777" stroke-width="0.8"/><line x1="241.91" y1="366.80" x2="241.91" y2="370.80" stroke="#666" stroke-width="0.9"/><text x="238.86" y="377.70" font-size="6.6" fill="#3a3a3a" stroke="#3a3a3a" stroke-width="0.12" textLength="6.10" lengthAdjust="spacingAndGlyphs">32</text><line x1="248.35" y1="366.80" x2="248.35" y2="369.00" stroke="#777" stroke-width="0.8"/><line x1="254.80" y1="366.80" x2="254.80" y2="370.80" stroke="#666" stroke-width="0.9"/><text x="251.75" y="377.70" font-size="6.6" fill="#3a3a3a" stroke="#3a3a3a" stroke-width="0.12" textLength="6.10" lengthAdjust="spacingAndGlyphs">34</text><line x1="261.24" y1="366.80" x2="261.24" y2="369.00" stroke="#777" stroke-width="0.8"/><line x1="267.68" y1="366.80" x2="267.68" y2="370.80" stroke="#666" stroke-width="0.9"/><text x="264.63" y="377.70" font-size="6.6" fill="#3a3a3a" stroke="#3a3a3a" stroke-width="0.12" textLength="6.10" lengthAdjust="spacingAndGlyphs">36</text><line x1="274.13" y1="366.80" x2="274.13" y2="369.00" stroke="#777" stroke-width="0.8"/><line x1="280.57" y1="366.80" x2="280.57" y2="370.80" stroke="#666" stroke-width="0.9"/><text x="277.52" y="377.70" font-size="6.6" fill="#3a3a3a" stroke="#3a3a3a" stroke-width="0.12" textLength="6.10" lengthAdjust="spacingAndGlyphs">38</text><line x1="287.02" y1="366.80" x2="287.02" y2="369.00" stroke="#777" stroke-width="0.8"/><line x1="293.46" y1="366.80" x2="293.46" y2="370.80" stroke="#666" stroke-width="0.9"/><text x="290.41" y="377.70" font-size="6.6" fill="#3a3a3a" stroke="#3a3a3a" stroke-width="0.12" textLength="6.10" lengthAdjust="spacingAndGlyphs">40</text><line x1="299.90" y1="366.80" x2="299.90" y2="369.00" stroke="#777" stroke-width="0.8"/><line x1="306.35" y1="366.80" x2="306.35" y2="370.80" stroke="#666" stroke-width="0.9"/><text x="303.30" y="377.70" font-size="6.6" fill="#3a3a3a" stroke="#3a3a3a" stroke-width="0.12" textLength="6.10" lengthAdjust="spacingAndGlyphs">42</text><line x1="312.79" y1="366.80" x2="312.79" y2="369.00" stroke="#777" stroke-width="0.8"/><line x1="319.24" y1="366.80" x2="319.24" y2="370.80" stroke="#666" stroke-width="0.9"/><text x="316.19" y="377.70" font-size="6.6" fill="#3a3a3a" stroke="#3a3a3a" stroke-width="0.12" textLength="6.10" lengthAdjust="spacingAndGlyphs">44</text><line x1="325.68" y1="366.80" x2="325.68" y2="369.00" stroke="#777" stroke-width="0.8"/><line x1="332.12" y1="366.80" x2="332.12" y2="370.80" stroke="#666" stroke-width="0.9"/><text x="329.07" y="377.70" font-size="6.6" fill="#3a3a3a" stroke="#3a3a3a" stroke-width="0.12" textLength="6.10" lengthAdjust="spacingAndGlyphs">46</text><line x1="338.57" y1="366.80" x2="338.57" y2="369.00" stroke="#777" stroke-width="0.8"/><line x1="345.01" y1="366.80" x2="345.01" y2="370.80" stroke="#666" stroke-width="0.9"/><text x="341.96" y="377.70" font-size="6.6" fill="#3a3a3a" stroke="#3a3a3a" stroke-width="0.12" textLength="6.10" lengthAdjust="spacingAndGlyphs">48</text><line x1="351.46" y1="366.80" x2="351.46" y2="369.00" stroke="#777" stroke-width="0.8"/><line x1="357.90" y1="366.80" x2="357.90" y2="370.80" stroke="#666" stroke-width="0.9"/><text x="354.85" y="377.70" font-size="6.6" fill="#3a3a3a" stroke="#3a3a3a" stroke-width="0.12" textLength="6.10" lengthAdjust="spacingAndGlyphs">50</text><line x1="364.34" y1="366.80" x2="364.34" y2="369.00" stroke="#777" stroke-width="0.8"/><text x="357.30" y="384.80" font-size="5.8" fill="#3a3a3a" stroke="#3a3a3a" stroke-width="0.1" textLength="7.6" lengthAdjust="spacingAndGlyphs">µm</text><polyline points="35.70,357.62 36.99,364.83 38.28,364.25 39.57,365.37 40.86,365.67 42.14,365.13 43.43,357.77 44.72,364.58 46.01,364.82 47.30,357.46 48.59,366.51 49.88,365.97 51.17,364.55 52.45,358.53 53.74,364.93 55.03,365.54 56.32,364.41 57.61,357.17 58.90,366.57 60.19,365.59 61.48,366.46 62.76,358.48 64.05,364.16 65.34,364.84 66.63,365.28 67.92,366.70 69.21,358.61 70.50,365.70 71.79,366.13 73.08,364.95 74.36,366.77 75.65,365.28 76.94,365.05 78.23,366.47 79.52,358.67 80.81,366.19 82.10,366.24 83.39,365.80 84.67,365.72 85.96,365.90 87.25,366.73 88.54,364.80 89.83,356.97 91.12,364.43 92.41,364.77 93.70,365.40 94.98,366.76 96.27,364.26 97.56,358.33 98.85,366.00 100.14,365.29 101.43,358.82 102.72,365.12 104.01,366.69 105.30,356.55 106.58,364.03 107.87,366.09 109.16,357.76 110.45,365.69 111.74,359.09 113.03,364.50 114.32,366.51 115.61,357.28 116.89,364.37 118.18,366.40 119.47,357.44 120.76,364.75 122.05,364.75 123.34,357.14 124.63,364.93 125.92,364.79 127.20,364.92 128.49,366.53 129.78,358.88 131.07,366.49 132.36,364.63 133.65,365.32 134.94,366.64 136.23,366.62 137.52,359.93 138.80,365.85 140.09,361.07 141.38,366.08 142.67,365.90 143.96,366.54 145.25,365.11 146.54,365.35 147.83,359.20 149.11,365.48 150.40,363.56 151.69,365.13 152.98,363.47 154.27,364.95 155.56,358.81 156.85,366.37 158.14,364.45 159.42,354.05 160.71,363.45 162.00,356.45 163.29,363.31 164.58,365.65 165.87,364.11 167.16,363.09 168.45,363.05 169.74,363.95 171.02,366.44 172.31,350.20 173.60,353.80 174.89,348.56 176.18,355.42 177.47,344.66 178.76,343.57 180.05,352.66 181.33,344.13 182.62,352.21 183.91,335.24 185.20,335.53 186.49,350.10 187.78,330.68 189.07,348.52 190.36,345.23 191.64,324.46 192.93,324.80 194.22,338.66 195.51,307.89 196.80,331.63 198.09,298.28 199.38,312.52 200.67,294.55 201.96,289.22 203.24,292.56 204.53,311.76 205.82,299.49 207.11,318.29 208.40,303.69 209.69,310.58 210.98,301.05 212.27,290.53 213.55,279.75 214.84,319.46 216.13,335.24 217.42,356.28 218.71,365.49 220.00,366.76 221.29,366.44 222.58,360.65 223.86,364.75 225.15,366.19 226.44,359.50 227.73,366.52 229.02,357.87 230.31,365.62 231.60,366.51 232.89,364.42 234.18,364.89 235.46,355.31 236.75,364.85 238.04,358.79 239.33,366.51 240.62,364.76 241.91,364.38 243.20,357.85 244.49,364.69 245.77,358.75 247.06,364.70 248.35,358.15 249.64,366.23 250.93,357.37 252.22,364.23 253.51,354.86 254.80,364.83 256.08,365.32 257.37,360.29 258.66,365.17 259.95,366.22 261.24,366.07 262.53,364.01 263.82,364.20 265.11,365.49 266.40,356.43 267.68,365.83 268.97,366.24 270.26,359.42 271.55,364.77 272.84,366.49 274.13,366.00 275.42,359.06 276.71,366.17 277.99,355.44 279.28,364.02 280.57,358.48 281.86,364.05 283.15,364.33 284.44,364.71 285.73,354.65 287.02,366.66 288.30,356.62 289.59,364.45 290.88,358.09 292.17,364.92 293.46,354.31 294.75,364.88 296.04,366.12 297.33,357.79 298.62,366.59 299.90,366.20 301.19,355.15 302.48,364.94 303.77,365.06 305.06,364.45 306.35,356.70 307.64,364.81 308.93,353.84 310.21,364.46 311.50,365.46 312.79,356.61 314.08,366.50 315.37,365.73 316.66,356.86 317.95,364.54 319.24,366.22 320.52,364.06 321.81,353.78 323.10,363.66 324.39,358.99 325.68,364.96 326.97,366.57 328.26,364.46 329.55,365.28 330.84,364.95 332.12,365.12 333.41,365.83 334.70,354.37 335.99,366.03 337.28,357.50 338.57,364.67 339.86,359.63 341.15,363.60 342.43,351.55 343.72,364.15 345.01,366.49 346.30,352.34 347.59,364.46 348.88,366.66 350.17,358.70 351.46,365.20 352.74,354.52 354.03,364.57 355.32,363.44 356.61,365.37 357.90,364.50 359.19,364.26 360.48,356.34 361.77,364.86 363.06,364.88 364.34,358.38 365.63,366.79" fill="none" stroke="#8020ff" stroke-width="1.25" stroke-linejoin="miter" stroke-miterlimit="3"/><text x="94.7" y="316.3" font-size="13.3" font-weight="bold" fill="#000" stroke="#000" stroke-width="0.38" textLength="14.3" lengthAdjust="spacingAndGlyphs">Zn</text></g>
<g><rect x="381.4" y="270.1" width="373.00" height="116.70" fill="none" stroke="#585858" stroke-width="1.1"/><text x="552.95" y="277.2" font-size="6.4" fill="#222" stroke="#222" stroke-width="0.12" textLength="19.5" lengthAdjust="spacingAndGlyphs">Zn Lα1,2</text><line x1="408.70" y1="366.80" x2="412.70" y2="366.80" stroke="#555" stroke-width="0.9"/><text x="405.60" y="369.30" font-size="6.5" fill="#3a3a3a" stroke="#3a3a3a" stroke-width="0.12" textLength="2.70" lengthAdjust="spacingAndGlyphs">0</text><line x1="411.60" y1="364.26" x2="412.60" y2="364.26" stroke="#777" stroke-width="0.8"/><line x1="411.60" y1="361.72" x2="412.60" y2="361.72" stroke="#777" stroke-width="0.8"/><line x1="411.60" y1="359.18" x2="412.60" y2="359.18" stroke="#777" stroke-width="0.8"/><line x1="411.60" y1="356.64" x2="412.60" y2="356.64" stroke="#777" stroke-width="0.8"/><line x1="410.30" y1="354.10" x2="412.70" y2="354.10" stroke="#666" stroke-width="0.8"/><line x1="411.60" y1="351.56" x2="412.60" y2="351.56" stroke="#777" stroke-width="0.8"/><line x1="411.60" y1="349.02" x2="412.60" y2="349.02" stroke="#777" stroke-width="0.8"/><line x1="411.60" y1="346.48" x2="412.60" y2="346.48" stroke="#777" stroke-width="0.8"/><line x1="411.60" y1="343.94" x2="412.60" y2="343.94" stroke="#777" stroke-width="0.8"/><line x1="408.70" y1="341.40" x2="412.70" y2="341.40" stroke="#555" stroke-width="0.9"/><text x="400.20" y="343.90" font-size="6.5" fill="#3a3a3a" stroke="#3a3a3a" stroke-width="0.12" textLength="8.10" lengthAdjust="spacingAndGlyphs">100</text><line x1="411.60" y1="338.86" x2="412.60" y2="338.86" stroke="#777" stroke-width="0.8"/><line x1="411.60" y1="336.32" x2="412.60" y2="336.32" stroke="#777" stroke-width="0.8"/><line x1="411.60" y1="333.78" x2="412.60" y2="333.78" stroke="#777" stroke-width="0.8"/><line x1="411.60" y1="331.24" x2="412.60" y2="331.24" stroke="#777" stroke-width="0.8"/><line x1="410.30" y1="328.70" x2="412.70" y2="328.70" stroke="#666" stroke-width="0.8"/><line x1="411.60" y1="326.16" x2="412.60" y2="326.16" stroke="#777" stroke-width="0.8"/><line x1="411.60" y1="323.62" x2="412.60" y2="323.62" stroke="#777" stroke-width="0.8"/><line x1="411.60" y1="321.08" x2="412.60" y2="321.08" stroke="#777" stroke-width="0.8"/><line x1="411.60" y1="318.54" x2="412.60" y2="318.54" stroke="#777" stroke-width="0.8"/><line x1="408.70" y1="316.00" x2="412.70" y2="316.00" stroke="#555" stroke-width="0.9"/><text x="400.20" y="318.50" font-size="6.5" fill="#3a3a3a" stroke="#3a3a3a" stroke-width="0.12" textLength="8.10" lengthAdjust="spacingAndGlyphs">200</text><line x1="411.60" y1="313.46" x2="412.60" y2="313.46" stroke="#777" stroke-width="0.8"/><line x1="411.60" y1="310.92" x2="412.60" y2="310.92" stroke="#777" stroke-width="0.8"/><line x1="411.60" y1="308.38" x2="412.60" y2="308.38" stroke="#777" stroke-width="0.8"/><line x1="411.60" y1="305.84" x2="412.60" y2="305.84" stroke="#777" stroke-width="0.8"/><line x1="410.30" y1="303.30" x2="412.70" y2="303.30" stroke="#666" stroke-width="0.8"/><line x1="411.60" y1="300.76" x2="412.60" y2="300.76" stroke="#777" stroke-width="0.8"/><line x1="411.60" y1="298.22" x2="412.60" y2="298.22" stroke="#777" stroke-width="0.8"/><line x1="411.60" y1="295.68" x2="412.60" y2="295.68" stroke="#777" stroke-width="0.8"/><line x1="411.60" y1="293.14" x2="412.60" y2="293.14" stroke="#777" stroke-width="0.8"/><line x1="408.70" y1="290.60" x2="412.70" y2="290.60" stroke="#555" stroke-width="0.9"/><text x="400.20" y="293.10" font-size="6.5" fill="#3a3a3a" stroke="#3a3a3a" stroke-width="0.12" textLength="8.10" lengthAdjust="spacingAndGlyphs">300</text><line x1="411.60" y1="288.06" x2="412.60" y2="288.06" stroke="#777" stroke-width="0.8"/><line x1="411.60" y1="285.52" x2="412.60" y2="285.52" stroke="#777" stroke-width="0.8"/><line x1="411.60" y1="282.98" x2="412.60" y2="282.98" stroke="#777" stroke-width="0.8"/><line x1="411.60" y1="280.44" x2="412.60" y2="280.44" stroke="#777" stroke-width="0.8"/><line x1="412.30" y1="367.10" x2="742.70" y2="367.10" stroke="#a0a0a0" stroke-width="0.9"/><line x1="412.80" y1="366.80" x2="412.80" y2="370.80" stroke="#666" stroke-width="0.9"/><text x="411.28" y="377.70" font-size="6.6" fill="#3a3a3a" stroke="#3a3a3a" stroke-width="0.12" textLength="3.05" lengthAdjust="spacingAndGlyphs">0</text><line x1="419.21" y1="366.80" x2="419.21" y2="369.00" stroke="#777" stroke-width="0.8"/><line x1="425.62" y1="366.80" x2="425.62" y2="370.80" stroke="#666" stroke-width="0.9"/><text x="424.10" y="377.70" font-size="6.6" fill="#3a3a3a" stroke="#3a3a3a" stroke-width="0.12" textLength="3.05" lengthAdjust="spacingAndGlyphs">2</text><line x1="432.04" y1="366.80" x2="432.04" y2="369.00" stroke="#777" stroke-width="0.8"/><line x1="438.45" y1="366.80" x2="438.45" y2="370.80" stroke="#666" stroke-width="0.9"/><text x="436.92" y="377.70" font-size="6.6" fill="#3a3a3a" stroke="#3a3a3a" stroke-width="0.12" textLength="3.05" lengthAdjust="spacingAndGlyphs">4</text><line x1="444.86" y1="366.80" x2="444.86" y2="369.00" stroke="#777" stroke-width="0.8"/><line x1="451.27" y1="366.80" x2="451.27" y2="370.80" stroke="#666" stroke-width="0.9"/><text x="449.75" y="377.70" font-size="6.6" fill="#3a3a3a" stroke="#3a3a3a" stroke-width="0.12" textLength="3.05" lengthAdjust="spacingAndGlyphs">6</text><line x1="457.68" y1="366.80" x2="457.68" y2="369.00" stroke="#777" stroke-width="0.8"/><line x1="464.10" y1="366.80" x2="464.10" y2="370.80" stroke="#666" stroke-width="0.9"/><text x="462.57" y="377.70" font-size="6.6" fill="#3a3a3a" stroke="#3a3a3a" stroke-width="0.12" textLength="3.05" lengthAdjust="spacingAndGlyphs">8</text><line x1="470.51" y1="366.80" x2="470.51" y2="369.00" stroke="#777" stroke-width="0.8"/><line x1="476.92" y1="366.80" x2="476.92" y2="370.80" stroke="#666" stroke-width="0.9"/><text x="473.87" y="377.70" font-size="6.6" fill="#3a3a3a" stroke="#3a3a3a" stroke-width="0.12" textLength="6.10" lengthAdjust="spacingAndGlyphs">10</text><line x1="483.33" y1="366.80" x2="483.33" y2="369.00" stroke="#777" stroke-width="0.8"/><line x1="489.74" y1="366.80" x2="489.74" y2="370.80" stroke="#666" stroke-width="0.9"/><text x="486.69" y="377.70" font-size="6.6" fill="#3a3a3a" stroke="#3a3a3a" stroke-width="0.12" textLength="6.10" lengthAdjust="spacingAndGlyphs">12</text><line x1="496.16" y1="366.80" x2="496.16" y2="369.00" stroke="#777" stroke-width="0.8"/><line x1="502.57" y1="366.80" x2="502.57" y2="370.80" stroke="#666" stroke-width="0.9"/><text x="499.52" y="377.70" font-size="6.6" fill="#3a3a3a" stroke="#3a3a3a" stroke-width="0.12" textLength="6.10" lengthAdjust="spacingAndGlyphs">14</text><line x1="508.98" y1="366.80" x2="508.98" y2="369.00" stroke="#777" stroke-width="0.8"/><line x1="515.39" y1="366.80" x2="515.39" y2="370.80" stroke="#666" stroke-width="0.9"/><text x="512.34" y="377.70" font-size="6.6" fill="#3a3a3a" stroke="#3a3a3a" stroke-width="0.12" textLength="6.10" lengthAdjust="spacingAndGlyphs">16</text><line x1="521.80" y1="366.80" x2="521.80" y2="369.00" stroke="#777" stroke-width="0.8"/><line x1="528.22" y1="366.80" x2="528.22" y2="370.80" stroke="#666" stroke-width="0.9"/><text x="525.17" y="377.70" font-size="6.6" fill="#3a3a3a" stroke="#3a3a3a" stroke-width="0.12" textLength="6.10" lengthAdjust="spacingAndGlyphs">18</text><line x1="534.63" y1="366.80" x2="534.63" y2="369.00" stroke="#777" stroke-width="0.8"/><line x1="541.04" y1="366.80" x2="541.04" y2="370.80" stroke="#666" stroke-width="0.9"/><text x="537.99" y="377.70" font-size="6.6" fill="#3a3a3a" stroke="#3a3a3a" stroke-width="0.12" textLength="6.10" lengthAdjust="spacingAndGlyphs">20</text><line x1="547.45" y1="366.80" x2="547.45" y2="369.00" stroke="#777" stroke-width="0.8"/><line x1="553.86" y1="366.80" x2="553.86" y2="370.80" stroke="#666" stroke-width="0.9"/><text x="550.81" y="377.70" font-size="6.6" fill="#3a3a3a" stroke="#3a3a3a" stroke-width="0.12" textLength="6.10" lengthAdjust="spacingAndGlyphs">22</text><line x1="560.28" y1="366.80" x2="560.28" y2="369.00" stroke="#777" stroke-width="0.8"/><line x1="566.69" y1="366.80" x2="566.69" y2="370.80" stroke="#666" stroke-width="0.9"/><text x="563.64" y="377.70" font-size="6.6" fill="#3a3a3a" stroke="#3a3a3a" stroke-width="0.12" textLength="6.10" lengthAdjust="spacingAndGlyphs">24</text><line x1="573.10" y1="366.80" x2="573.10" y2="369.00" stroke="#777" stroke-width="0.8"/><line x1="579.51" y1="366.80" x2="579.51" y2="370.80" stroke="#666" stroke-width="0.9"/><text x="576.46" y="377.70" font-size="6.6" fill="#3a3a3a" stroke="#3a3a3a" stroke-width="0.12" textLength="6.10" lengthAdjust="spacingAndGlyphs">26</text><line x1="585.92" y1="366.80" x2="585.92" y2="369.00" stroke="#777" stroke-width="0.8"/><line x1="592.34" y1="366.80" x2="592.34" y2="370.80" stroke="#666" stroke-width="0.9"/><text x="589.29" y="377.70" font-size="6.6" fill="#3a3a3a" stroke="#3a3a3a" stroke-width="0.12" textLength="6.10" lengthAdjust="spacingAndGlyphs">28</text><line x1="598.75" y1="366.80" x2="598.75" y2="369.00" stroke="#777" stroke-width="0.8"/><line x1="605.16" y1="366.80" x2="605.16" y2="370.80" stroke="#666" stroke-width="0.9"/><text x="602.11" y="377.70" font-size="6.6" fill="#3a3a3a" stroke="#3a3a3a" stroke-width="0.12" textLength="6.10" lengthAdjust="spacingAndGlyphs">30</text><line x1="611.57" y1="366.80" x2="611.57" y2="369.00" stroke="#777" stroke-width="0.8"/><line x1="617.98" y1="366.80" x2="617.98" y2="370.80" stroke="#666" stroke-width="0.9"/><text x="614.93" y="377.70" font-size="6.6" fill="#3a3a3a" stroke="#3a3a3a" stroke-width="0.12" textLength="6.10" lengthAdjust="spacingAndGlyphs">32</text><line x1="624.40" y1="366.80" x2="624.40" y2="369.00" stroke="#777" stroke-width="0.8"/><line x1="630.81" y1="366.80" x2="630.81" y2="370.80" stroke="#666" stroke-width="0.9"/><text x="627.76" y="377.70" font-size="6.6" fill="#3a3a3a" stroke="#3a3a3a" stroke-width="0.12" textLength="6.10" lengthAdjust="spacingAndGlyphs">34</text><line x1="637.22" y1="366.80" x2="637.22" y2="369.00" stroke="#777" stroke-width="0.8"/><line x1="643.63" y1="366.80" x2="643.63" y2="370.80" stroke="#666" stroke-width="0.9"/><text x="640.58" y="377.70" font-size="6.6" fill="#3a3a3a" stroke="#3a3a3a" stroke-width="0.12" textLength="6.10" lengthAdjust="spacingAndGlyphs">36</text><line x1="650.04" y1="366.80" x2="650.04" y2="369.00" stroke="#777" stroke-width="0.8"/><line x1="656.46" y1="366.80" x2="656.46" y2="370.80" stroke="#666" stroke-width="0.9"/><text x="653.41" y="377.70" font-size="6.6" fill="#3a3a3a" stroke="#3a3a3a" stroke-width="0.12" textLength="6.10" lengthAdjust="spacingAndGlyphs">38</text><line x1="662.87" y1="366.80" x2="662.87" y2="369.00" stroke="#777" stroke-width="0.8"/><line x1="669.28" y1="366.80" x2="669.28" y2="370.80" stroke="#666" stroke-width="0.9"/><text x="666.23" y="377.70" font-size="6.6" fill="#3a3a3a" stroke="#3a3a3a" stroke-width="0.12" textLength="6.10" lengthAdjust="spacingAndGlyphs">40</text><line x1="675.69" y1="366.80" x2="675.69" y2="369.00" stroke="#777" stroke-width="0.8"/><line x1="682.10" y1="366.80" x2="682.10" y2="370.80" stroke="#666" stroke-width="0.9"/><text x="679.05" y="377.70" font-size="6.6" fill="#3a3a3a" stroke="#3a3a3a" stroke-width="0.12" textLength="6.10" lengthAdjust="spacingAndGlyphs">42</text><line x1="688.52" y1="366.80" x2="688.52" y2="369.00" stroke="#777" stroke-width="0.8"/><line x1="694.93" y1="366.80" x2="694.93" y2="370.80" stroke="#666" stroke-width="0.9"/><text x="691.88" y="377.70" font-size="6.6" fill="#3a3a3a" stroke="#3a3a3a" stroke-width="0.12" textLength="6.10" lengthAdjust="spacingAndGlyphs">44</text><line x1="701.34" y1="366.80" x2="701.34" y2="369.00" stroke="#777" stroke-width="0.8"/><line x1="707.75" y1="366.80" x2="707.75" y2="370.80" stroke="#666" stroke-width="0.9"/><text x="704.70" y="377.70" font-size="6.6" fill="#3a3a3a" stroke="#3a3a3a" stroke-width="0.12" textLength="6.10" lengthAdjust="spacingAndGlyphs">46</text><line x1="714.16" y1="366.80" x2="714.16" y2="369.00" stroke="#777" stroke-width="0.8"/><line x1="720.58" y1="366.80" x2="720.58" y2="370.80" stroke="#666" stroke-width="0.9"/><text x="717.53" y="377.70" font-size="6.6" fill="#3a3a3a" stroke="#3a3a3a" stroke-width="0.12" textLength="6.10" lengthAdjust="spacingAndGlyphs">48</text><line x1="726.99" y1="366.80" x2="726.99" y2="369.00" stroke="#777" stroke-width="0.8"/><line x1="733.40" y1="366.80" x2="733.40" y2="370.80" stroke="#666" stroke-width="0.9"/><text x="730.35" y="377.70" font-size="6.6" fill="#3a3a3a" stroke="#3a3a3a" stroke-width="0.12" textLength="6.10" lengthAdjust="spacingAndGlyphs">50</text><line x1="739.81" y1="366.80" x2="739.81" y2="369.00" stroke="#777" stroke-width="0.8"/><text x="735.90" y="384.60" font-size="5.8" fill="#3a3a3a" stroke="#3a3a3a" stroke-width="0.1" textLength="7.6" lengthAdjust="spacingAndGlyphs">µm</text><polyline points="412.80,359.64 414.08,364.83 415.36,365.67 416.65,366.51 417.93,366.42 419.21,365.75 420.49,364.54 421.78,364.77 423.06,366.33 424.34,359.39 425.62,364.67 426.91,364.77 428.19,359.77 429.47,366.53 430.75,365.49 432.04,357.52 433.32,365.94 434.60,364.54 435.88,364.87 437.17,357.23 438.45,365.59 439.73,360.29 441.01,365.94 442.30,359.72 443.58,365.16 444.86,358.03 446.14,365.14 447.42,364.85 448.71,366.65 449.99,366.59 451.27,361.19 452.55,365.12 453.84,366.40 455.12,360.60 456.40,366.77 457.68,359.67 458.97,366.41 460.25,366.16 461.53,366.25 462.81,366.54 464.10,361.53 465.38,365.05 466.66,365.24 467.94,360.57 469.23,365.92 470.51,365.32 471.79,366.62 473.07,360.06 474.36,365.45 475.64,365.49 476.92,366.45 478.20,357.10 479.48,364.40 480.77,364.45 482.05,365.14 483.33,364.79 484.61,365.48 485.90,365.50 487.18,366.72 488.46,366.47 489.74,353.85 491.03,366.60 492.31,366.01 493.59,366.08 494.87,358.32 496.16,365.28 497.44,366.75 498.72,358.52 500.00,366.35 501.29,365.82 502.57,364.60 503.85,364.33 505.13,365.30 506.42,365.23 507.70,364.97 508.98,364.64 510.26,357.26 511.54,366.19 512.83,360.65 514.11,365.23 515.39,360.23 516.67,365.68 517.96,358.66 519.24,364.81 520.52,355.36 521.80,366.03 523.09,366.66 524.37,356.78 525.65,362.43 526.93,353.24 528.22,362.21 529.50,357.07 530.78,366.16 532.06,353.10 533.35,363.05 534.63,366.20 535.91,362.52 537.19,363.43 538.48,363.30 539.76,364.80 541.04,364.58 542.32,357.70 543.60,365.26 544.89,364.79 546.17,366.77 547.45,365.43 548.73,364.48 550.02,357.04 551.30,365.05 552.58,362.08 553.86,355.85 555.15,363.94 556.43,365.37 557.71,356.25 558.99,363.78 560.28,363.47 561.56,357.77 562.84,360.99 564.12,363.39 565.41,351.06 566.69,357.25 567.97,346.20 569.25,350.93 570.54,332.22 571.82,325.36 573.10,326.14 574.38,279.42 575.66,329.21 576.95,300.17 578.23,295.17 579.51,299.49 580.79,310.31 582.08,322.40 583.36,314.78 584.64,340.47 585.92,332.13 587.21,348.28 588.49,347.64 589.77,358.38 591.05,363.46 592.34,366.40 593.62,366.11 594.90,366.15 596.18,356.32 597.47,365.54 598.75,365.87 600.03,357.78 601.31,364.54 602.60,363.99 603.88,355.92 605.16,363.47 606.44,365.91 607.72,365.05 609.01,364.18 610.29,358.49 611.57,366.48 612.85,364.23 614.14,359.32 615.42,366.02 616.70,363.56 617.98,365.08 619.27,359.03 620.55,363.96 621.83,357.63 623.11,364.53 624.40,364.36 625.68,357.49 626.96,366.21 628.24,363.44 629.53,365.66 630.81,360.32 632.09,365.55 633.37,363.43 634.66,364.53 635.94,356.38 637.22,366.22 638.50,364.88 639.78,359.82 641.07,363.88 642.35,364.40 643.63,356.55 644.91,364.14 646.20,356.74 647.48,363.43 648.76,357.21 650.04,364.79 651.33,363.97 652.61,364.81 653.89,356.86 655.17,364.33 656.46,358.73 657.74,363.63 659.02,365.33 660.30,365.22 661.59,365.05 662.87,360.13 664.15,366.34 665.43,364.94 666.72,360.16 668.00,365.15 669.28,364.08 670.56,357.25 671.84,364.60 673.13,356.38 674.41,366.41 675.69,365.22 676.97,365.21 678.26,357.11 679.54,364.58 680.82,365.48 682.10,356.27 683.39,366.54 684.67,356.50 685.95,366.45 687.23,360.64 688.52,363.85 689.80,364.94 691.08,365.68 692.36,357.99 693.65,365.26 694.93,357.78 696.21,364.59 697.49,358.72 698.78,364.38 700.06,364.78 701.34,365.52 702.62,366.51 703.90,366.47 705.19,365.06 706.47,365.29 707.75,365.43 709.03,358.91 710.32,365.32 711.60,360.53 712.88,363.74 714.16,366.09 715.45,359.21 716.73,364.18 718.01,359.01 719.29,364.26 720.58,355.88 721.86,364.40 723.14,357.81 724.42,366.54 725.71,366.61 726.99,366.61 728.27,363.72 729.55,365.59 730.84,360.12 732.12,364.02 733.40,359.91 734.68,364.66 735.96,360.70 737.25,365.12 738.53,356.02 739.81,364.63 741.09,364.29" fill="none" stroke="#1e84ff" stroke-width="1.25" stroke-linejoin="miter" stroke-miterlimit="3"/><text x="452.0" y="326.6" font-size="13.3" font-weight="bold" fill="#000" stroke="#000" stroke-width="0.38" textLength="14.5" lengthAdjust="spacingAndGlyphs">Zn</text></g>
<text x="185" y="413.2" font-family='"Liberation Serif", serif' font-size="18.8" fill="#000" text-anchor="middle">(<tspan font-weight="bold">a</tspan>)</text>
<text x="563" y="413.2" font-family='"Liberation Serif", serif' font-size="18.8" fill="#000" text-anchor="middle">(<tspan font-weight="bold">b</tspan>)</text>
</svg></body></html>
